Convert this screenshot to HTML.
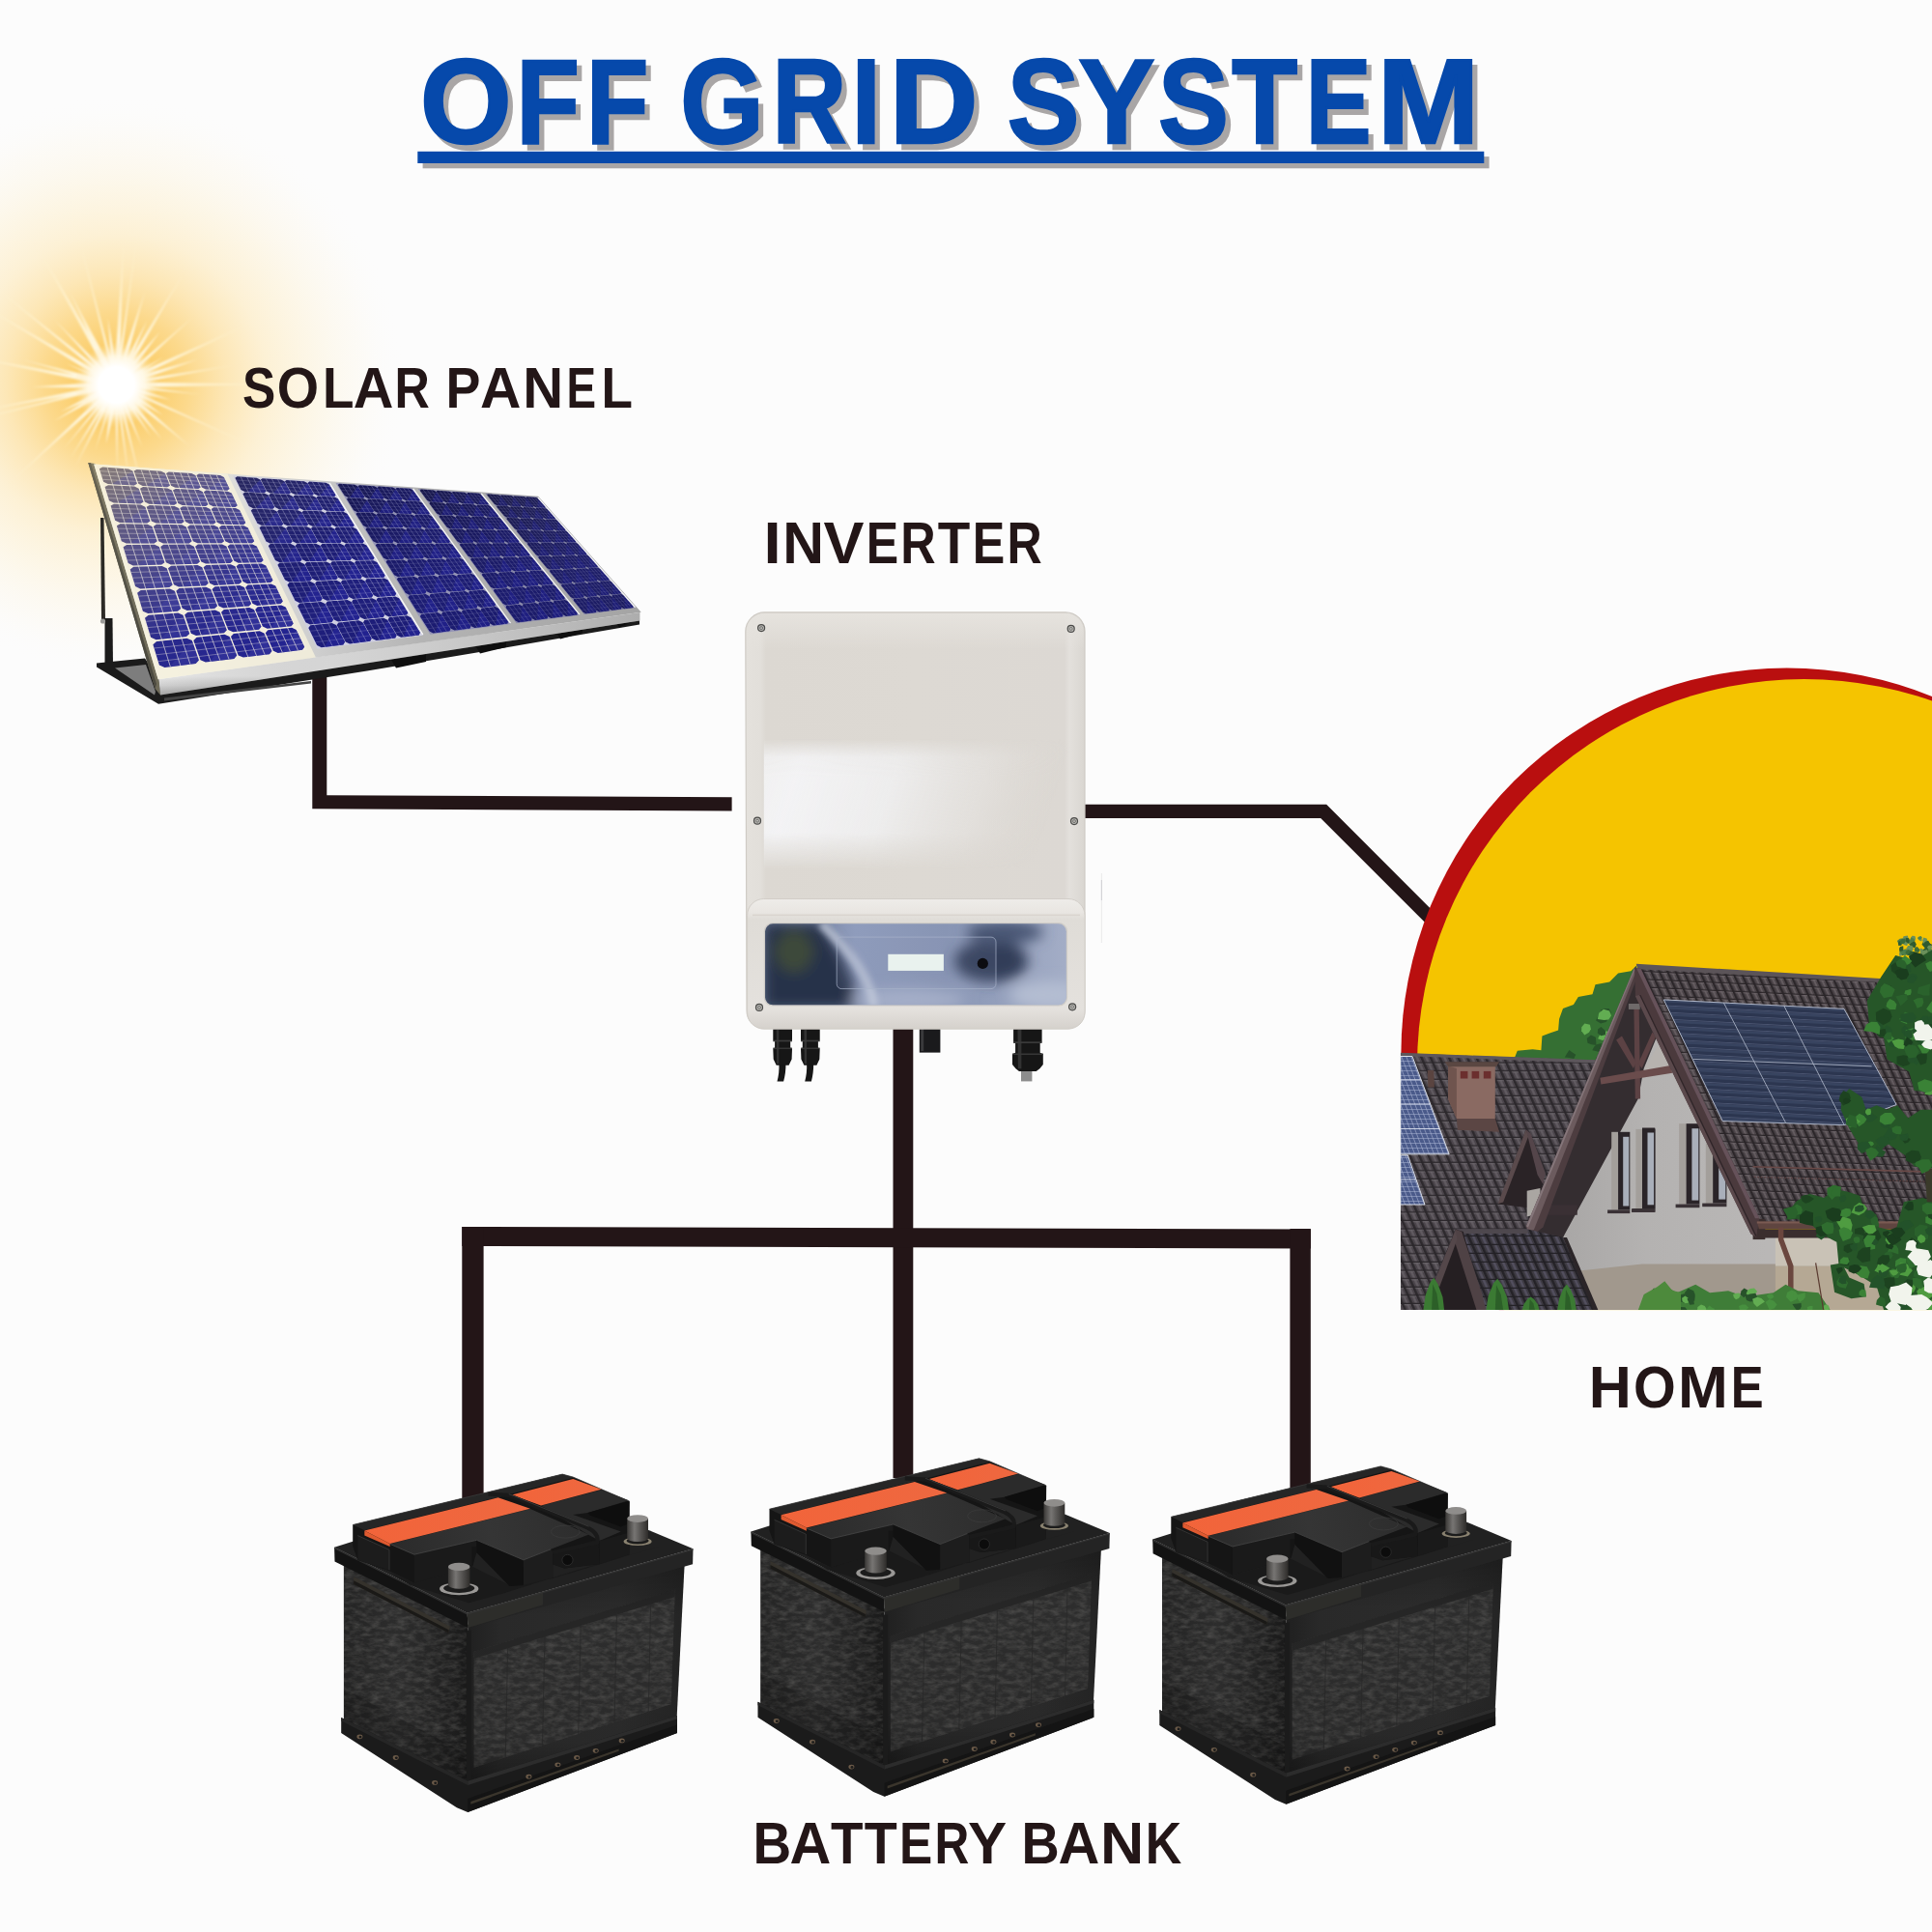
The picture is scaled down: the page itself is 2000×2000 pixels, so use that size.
<!DOCTYPE html>
<html><head><meta charset="utf-8"><title>Off Grid System</title>
<style>
html,body{margin:0;padding:0;background:#fcfcfc;}
body{width:2000px;height:2000px;overflow:hidden;font-family:"Liberation Sans",sans-serif;}
svg{display:block}
</style></head><body>
<svg width="2000" height="2000" viewBox="0 0 2000 2000">
<defs>
<radialGradient id="glow" cx="120.5" cy="398.5" r="300" gradientUnits="userSpaceOnUse">
 <stop offset="0" stop-color="#fbc95f"/>
 <stop offset="0.13" stop-color="#fbce6c"/>
 <stop offset="0.25" stop-color="#fcd98c" />
 <stop offset="0.38" stop-color="#fde5b0" stop-opacity="0.92"/>
 <stop offset="0.52" stop-color="#fdeecb" stop-opacity="0.8"/>
 <stop offset="0.68" stop-color="#fdf3da" stop-opacity="0.6"/>
 <stop offset="0.85" stop-color="#fdf7e8" stop-opacity="0.3"/>
 <stop offset="1" stop-color="#fcfcfc" stop-opacity="0"/>
</radialGradient>
<radialGradient id="core" cx="120.5" cy="398.5" r="44" gradientUnits="userSpaceOnUse">
 <stop offset="0" stop-color="#ffffff"/>
 <stop offset="0.42" stop-color="#ffffff"/>
 <stop offset="0.68" stop-color="#fff8e4" stop-opacity="0.8"/>
 <stop offset="1" stop-color="#fde2a0" stop-opacity="0"/>
</radialGradient>
<radialGradient id="rayfade" cx="120.5" cy="398.5" r="185" gradientUnits="userSpaceOnUse">
 <stop offset="0" stop-color="#fff" stop-opacity="1"/>
 <stop offset="0.3" stop-color="#fffbe8" stop-opacity="0.85"/>
 <stop offset="0.6" stop-color="#fff6d8" stop-opacity="0.6"/>
 <stop offset="1" stop-color="#fff2cc" stop-opacity="0.15"/>
</radialGradient>
<filter id="b1" x="-20%" y="-20%" width="140%" height="140%"><feGaussianBlur stdDeviation="0.8"/></filter>
<linearGradient id="pc0" gradientUnits="userSpaceOnUse" x1="97" y1="481" x2="268" y2="689"><stop offset="0" stop-color="#6f666c"/><stop offset="0.35" stop-color="#4a4684"/><stop offset="0.7" stop-color="#29298c"/><stop offset="1" stop-color="#232390"/></linearGradient>
<linearGradient id="pc1" gradientUnits="userSpaceOnUse" x1="236" y1="491" x2="402" y2="670"><stop offset="0" stop-color="#191956"/><stop offset="0.35" stop-color="#1c1c6c"/><stop offset="0.7" stop-color="#1f1f7c"/><stop offset="1" stop-color="#1c1c76"/></linearGradient>
<linearGradient id="pc2" gradientUnits="userSpaceOnUse" x1="343" y1="498" x2="502" y2="656"><stop offset="0" stop-color="#17174e"/><stop offset="0.35" stop-color="#1a1a64"/><stop offset="0.7" stop-color="#1d1d74"/><stop offset="1" stop-color="#1a1a6c"/></linearGradient>
<linearGradient id="pc3" gradientUnits="userSpaceOnUse" x1="429" y1="504" x2="580" y2="645"><stop offset="0" stop-color="#171748"/><stop offset="0.35" stop-color="#19195e"/><stop offset="0.7" stop-color="#1c1c6e"/><stop offset="1" stop-color="#1a1a66"/></linearGradient>
<linearGradient id="pc4" gradientUnits="userSpaceOnUse" x1="499" y1="510" x2="642" y2="637"><stop offset="0" stop-color="#1a1a46"/><stop offset="0.35" stop-color="#1b1b5a"/><stop offset="0.7" stop-color="#1d1d68"/><stop offset="1" stop-color="#1b1b60"/></linearGradient>
<linearGradient id="frm" gradientUnits="userSpaceOnUse" x1="160" y1="700" x2="662" y2="640"><stop offset="0" stop-color="#f2f2ee"/><stop offset="0.3" stop-color="#d2d2d2"/><stop offset="0.55" stop-color="#b4b4b4"/><stop offset="1" stop-color="#a4a4a4"/></linearGradient>
<linearGradient id="frmt" gradientUnits="userSpaceOnUse" x1="0" y1="700" x2="0" y2="722"><stop offset="0" stop-color="#dcdcdc"/><stop offset="0.45" stop-color="#b4b4b4"/><stop offset="1" stop-color="#636363"/></linearGradient>
<linearGradient id="frmx" gradientUnits="userSpaceOnUse" x1="166" y1="0" x2="662" y2="0"><stop offset="0" stop-color="#fff" stop-opacity="0.35"/><stop offset="0.35" stop-color="#999" stop-opacity="0.1"/><stop offset="1" stop-color="#555" stop-opacity="0.35"/></linearGradient>
<radialGradient id="pglow" cx="120.5" cy="398.5" r="270" gradientUnits="userSpaceOnUse"><stop offset="0.28" stop-color="#ffe9a8" stop-opacity="0.2"/><stop offset="0.5" stop-color="#fff0c4" stop-opacity="0.08"/><stop offset="0.8" stop-color="#fff6dc" stop-opacity="0.04"/><stop offset="1" stop-color="#fff" stop-opacity="0"/></radialGradient>
<linearGradient id="ivb" x1="0" y1="0" x2="1" y2="0">
 <stop offset="0" stop-color="#e4e1dc"/><stop offset="0.045" stop-color="#e2dfda"/><stop offset="0.06" stop-color="#dcd8d2"/>
 <stop offset="0.5" stop-color="#ddd9d3"/><stop offset="0.94" stop-color="#dcd8d3"/><stop offset="0.955" stop-color="#e3e0dc"/><stop offset="1" stop-color="#d9d6d1"/>
</linearGradient>
<linearGradient id="ivtop" x1="0" y1="0" x2="0" y2="1">
 <stop offset="0" stop-color="#e6e3de"/><stop offset="1" stop-color="#e6e3de" stop-opacity="0"/>
</linearGradient>
<linearGradient id="ivshine" gradientUnits="userSpaceOnUse" x1="790" y1="790" x2="1075" y2="880">
 <stop offset="0" stop-color="#f3f3f4" stop-opacity="0.9"/><stop offset="0.12" stop-color="#f4f4f6" stop-opacity="0.95"/>
 <stop offset="0.45" stop-color="#f0f0f1" stop-opacity="0.85"/><stop offset="0.75" stop-color="#e8e6e4" stop-opacity="0.5"/><stop offset="1" stop-color="#dedad5" stop-opacity="0"/>
</linearGradient>
<linearGradient id="ivshv" x1="0" y1="0" x2="0" y2="1">
 <stop offset="0" stop-color="#fff" stop-opacity="0"/><stop offset="0.14" stop-color="#fff" stop-opacity="0.9"/><stop offset="0.3" stop-color="#fff" stop-opacity="1"/><stop offset="0.72" stop-color="#fff" stop-opacity="1"/><stop offset="1" stop-color="#fff" stop-opacity="0"/>
</linearGradient>
<mask id="ivm"><rect x="790.5" y="765" width="320" height="135" fill="url(#ivshv)"/></mask>
<linearGradient id="ivlow" x1="0" y1="0" x2="0" y2="1">
 <stop offset="0" stop-color="#eeece9"/><stop offset="0.1" stop-color="#e9e6e2"/><stop offset="0.16" stop-color="#dfdcd7"/><stop offset="0.85" stop-color="#e4e1dd"/><stop offset="1" stop-color="#d5d1cc"/>
</linearGradient>
<linearGradient id="ivwin" x1="0" y1="0" x2="1" y2="0">
 <stop offset="0" stop-color="#6f7b96"/><stop offset="0.3" stop-color="#8f9cbc"/><stop offset="0.6" stop-color="#8895b4"/><stop offset="1" stop-color="#a3adc6"/>
</linearGradient>
<filter id="ivbl" x="-30%" y="-30%" width="160%" height="160%"><feGaussianBlur stdDeviation="7"/></filter>
<filter id="ivbl2" x="-30%" y="-30%" width="160%" height="160%"><feGaussianBlur stdDeviation="3"/></filter>
<clipPath id="ivwc"><rect x="792.1" y="956.3" width="311.7" height="84" rx="8"/></clipPath>

<clipPath id="hclip"><rect x="1449.8" y="940" width="560" height="416.1"/></clipPath>
<pattern id="tileL" width="9.5" height="8.6" patternUnits="userSpaceOnUse" patternTransform="translate(1450,1092) skewX(24)">
 <rect width="9.5" height="8.6" fill="#4b454b"/>
 <rect x="0" y="0" width="2.6" height="8.6" fill="#2d292d"/>
 <rect x="5" y="0" width="2.4" height="8.6" fill="#625c62"/>
 <rect x="0" y="7.4" width="9.5" height="1.2" fill="#2a262a"/>
 <rect x="2.6" y="0" width="6.9" height="1.3" fill="#6d676d" opacity="0.7"/>
</pattern>
<pattern id="tileR" width="8.6" height="8.2" patternUnits="userSpaceOnUse" patternTransform="translate(1700,1006) rotate(2.6) skewX(27)">
 <rect width="8.6" height="8.2" fill="#4a4347"/>
 <rect x="0" y="0" width="2.4" height="8.2" fill="#2b2629"/>
 <rect x="4.6" y="0" width="2.2" height="8.2" fill="#645c60"/>
 <rect x="0" y="7.1" width="8.6" height="1.1" fill="#292427"/>
 <rect x="2.4" y="0" width="6.2" height="1.2" fill="#6e666a" opacity="0.7"/>
</pattern>
<pattern id="tileF" width="9.5" height="9" patternUnits="userSpaceOnUse" patternTransform="translate(1500,1280) skewX(24)">
 <rect width="9.5" height="9" fill="#3d3a42"/>
 <rect x="0" y="0" width="2.6" height="9" fill="#242227"/>
 <rect x="5" y="0" width="2.4" height="9" fill="#545060"/>
 <rect x="0" y="7.8" width="9.5" height="1.2" fill="#222025"/>
</pattern>
<pattern id="pvR" width="40" height="7" patternUnits="userSpaceOnUse" patternTransform="translate(1722,1035) rotate(3) skewX(30)">
 <rect width="40" height="7" fill="#2c3650"/>
 <rect y="0" width="40" height="2.2" fill="#384460"/>
 <rect y="5.6" width="40" height="0.8" fill="#7f8aa8" opacity="0.45"/>
</pattern>
<pattern id="pvL" width="5" height="5" patternUnits="userSpaceOnUse" patternTransform="translate(1450,1093) skewX(21)">
 <rect width="5" height="5" fill="#4a5a8a"/>
 <rect width="0.8" height="5" fill="#aab4d4" opacity="0.75"/>
 <rect width="5" height="0.8" fill="#aab4d4" opacity="0.6"/>
</pattern>
<linearGradient id="wallg" gradientUnits="userSpaceOnUse" x1="1620" y1="0" x2="1830" y2="0">
 <stop offset="0" stop-color="#a9a7a6"/><stop offset="0.4" stop-color="#b4b2b1"/><stop offset="1" stop-color="#b9b7b6"/>
</linearGradient>
<filter id="hbl" x="-10%" y="-10%" width="120%" height="120%"><feGaussianBlur stdDeviation="0.7"/></filter>

<linearGradient id="btL" gradientUnits="userSpaceOnUse" x1="25" y1="0" x2="155" y2="0">
 <stop offset="0" stop-color="#242424"/><stop offset="0.45" stop-color="#2d2d2d"/><stop offset="0.8" stop-color="#222"/><stop offset="1" stop-color="#191919"/>
</linearGradient>
<linearGradient id="btR" gradientUnits="userSpaceOnUse" x1="155" y1="0" x2="380" y2="0">
 <stop offset="0" stop-color="#202020"/><stop offset="0.15" stop-color="#292929"/><stop offset="0.7" stop-color="#2c2c2c"/><stop offset="1" stop-color="#242424"/>
</linearGradient>
<linearGradient id="btRv" x1="0" y1="0" x2="0" y2="1">
 <stop offset="0" stop-color="#000" stop-opacity="0.25"/><stop offset="0.25" stop-color="#000" stop-opacity="0"/><stop offset="0.8" stop-color="#000" stop-opacity="0.05"/><stop offset="1" stop-color="#000" stop-opacity="0.35"/>
</linearGradient>
<linearGradient id="btTop" gradientUnits="userSpaceOnUse" x1="70" y1="90" x2="280" y2="40">
 <stop offset="0" stop-color="#2a2a2a"/><stop offset="0.5" stop-color="#353535"/><stop offset="1" stop-color="#2c2c2c"/>
</linearGradient>
<linearGradient id="btTerm" x1="0" y1="0" x2="1" y2="0">
 <stop offset="0" stop-color="#3a3836"/><stop offset="0.35" stop-color="#777573"/><stop offset="0.6" stop-color="#5a5856"/><stop offset="1" stop-color="#2e2c2a"/>
</linearGradient>
<filter id="btx" x="0" y="0" width="100%" height="100%" color-interpolation-filters="sRGB">
 <feTurbulence type="fractalNoise" baseFrequency="0.11 0.22" numOctaves="3" seed="7" result="n"/>
 <feColorMatrix in="n" type="matrix" values="0 0 0 0 0.7  0 0 0 0 0.69  0 0 0 0 0.67  0.42 0 0 0 -0.15" result="m"/>
 <feComposite in="m" in2="SourceGraphic" operator="in" result="mm"/>
 <feMerge><feMergeNode in="SourceGraphic"/><feMergeNode in="mm"/></feMerge>
</filter>
<linearGradient id="btOr" x1="0" y1="0" x2="1" y2="0">
 <stop offset="0" stop-color="#f2643a"/><stop offset="1" stop-color="#ee6840"/>
</linearGradient>

<g id="batt"><polygon points="25.9,103.5 154.2,171.8 154.2,341.6 25.9,273.3" fill="url(#btL)" filter="url(#btx)"/>
<polygon points="154.2,171.8 378.9,103.5 370.6,269.2 154.2,341.6" fill="url(#btR)"/>
<polygon points="160.5,199.8 368.9,135.6 364.8,254.2 160.5,319.9" fill="#2d2d2d" filter="url(#btx)"/>
<polygon points="160.5,199.8 368.9,135.6 368.5,142.9 160.5,207.0" fill="#262626"/>
<line x1="195.7" y1="195.2" x2="193.2" y2="308.8" stroke="#2a2a2a" stroke-width="0.8"/>
<line x1="234.0" y1="183.4" x2="231.5" y2="296.7" stroke="#2a2a2a" stroke-width="0.8"/>
<line x1="271.2" y1="171.9" x2="268.7" y2="285.0" stroke="#2a2a2a" stroke-width="0.8"/>
<line x1="308.5" y1="160.4" x2="306.0" y2="273.3" stroke="#2a2a2a" stroke-width="0.8"/>
<line x1="343.7" y1="149.6" x2="341.2" y2="262.2" stroke="#2a2a2a" stroke-width="0.8"/>
<polygon points="154.2,171.8 378.9,103.5 370.6,269.2 154.2,341.6" fill="url(#btRv)"/>
<polygon points="36.2,122.2 135.6,173.5 134.6,180.5 36.2,130.0" fill="#35322c"/>
<polygon points="36.2,126.3 134.6,177.2 134.6,180.5 36.2,130.0" fill="#1a1917"/>
<polygon points="25.9,238.1 154.2,306.4 154.2,341.6 25.9,273.3" fill="#000" opacity="0.18"/>
<polygon points="152.8,178.1 157.8,177.6 157.8,339.5 152.8,339.5" fill="#1b1b1b"/>
<polygon points="23.2,268.1 154.2,333.7 371.0,266.0 371.0,284.1 154.2,366.0 142.9,361.3 23.2,284.1" fill="#1b1b1b"/>
<polygon points="154.2,333.7 371.0,266.0 371.0,269.6 154.2,337.9" fill="#2c2c2c"/>
<polygon points="23.2,268.1 154.2,333.7 154.2,337.9 23.2,271.6" fill="#262626"/>
<polygon points="154.2,352.0 371.0,275.4 371.0,284.1 154.2,366.0" fill="#141414"/>
<polygon points="157.3,355.1 310.6,300.6 310.6,302.7 157.3,357.8" fill="#3a352c"/>
<ellipse cx="42.4" cy="287.8" rx="3" ry="2.4" fill="#6b5a48"/><ellipse cx="43.0" cy="288.1" rx="1.5" ry="1.3" fill="#1a1a1a"/>
<ellipse cx="79.7" cy="309.5" rx="3" ry="2.4" fill="#6b5a48"/><ellipse cx="80.3" cy="309.8" rx="1.5" ry="1.3" fill="#1a1a1a"/>
<ellipse cx="120.1" cy="335.4" rx="3" ry="2.4" fill="#6b5a48"/><ellipse cx="120.7" cy="335.7" rx="1.5" ry="1.3" fill="#1a1a1a"/>
<ellipse cx="217.4" cy="329.2" rx="3" ry="2.4" fill="#6b5a48"/><ellipse cx="218.0" cy="329.5" rx="1.5" ry="1.3" fill="#1a1a1a"/>
<ellipse cx="247.4" cy="316.8" rx="3" ry="2.4" fill="#6b5a48"/><ellipse cx="248.0" cy="317.1" rx="1.5" ry="1.3" fill="#1a1a1a"/>
<ellipse cx="267.1" cy="309.5" rx="3" ry="2.4" fill="#6b5a48"/><ellipse cx="267.7" cy="309.8" rx="1.5" ry="1.3" fill="#1a1a1a"/>
<ellipse cx="286.7" cy="302.3" rx="3" ry="2.4" fill="#6b5a48"/><ellipse cx="287.3" cy="302.6" rx="1.5" ry="1.3" fill="#1a1a1a"/>
<ellipse cx="313.7" cy="291.9" rx="3" ry="2.4" fill="#6b5a48"/><ellipse cx="314.3" cy="292.2" rx="1.5" ry="1.3" fill="#1a1a1a"/>
<polygon points="16.1,91.8 35.2,85.7 321.9,67.1 342.1,74.2 387.5,93.2 153.7,159.8" fill="#212121"/>
<polygon points="16.1,91.8 153.7,159.8 154.5,175.1 16.5,106.5" fill="#131313"/>
<polygon points="153.7,159.8 387.5,93.2 387.1,109.3 154.5,175.1" fill="#242424"/>
<polygon points="153.7,159.8 232.0,137.6 232.0,151.3 154.5,175.1" fill="#34342f" opacity="0.55"/>
<polygon points="16.1,91.8 153.7,159.8 387.5,93.2 387.5,94.8 153.7,161.8 16.1,93.6" fill="#333" opacity="0.8"/>
<polygon points="72.6,117.0 98.8,129.1 159.4,111.9 197.7,131.1 242.1,124.0 288.6,109.9 321.9,99.8 353.2,90.7 268.4,115.0 191.7,139.2 155.3,149.3 94.8,131.1" fill="#1a1a1a"/>
<polygon points="35.2,68.5 35.2,90.7 40.3,104.9 72.6,116.0 98.8,128.7 159.4,111.3 163.4,96.8 197.7,132.1 242.1,123.4 242.1,109.3 254.2,113.4 288.6,109.3 321.3,99.2 321.9,44.3 263.3,19.1 252.2,16.1" fill="#151515"/>
<polygon points="40.3,79.6 73.0,94.4 73.0,115.4 40.3,104.9" fill="#1c1c1c"/>
<polygon points="35.2,68.5 252.2,16.1 263.3,19.7 185.6,39.9 47.3,74.2" fill="#262626"/>
<polygon points="73.6,88.3 218.9,52.0 279.5,78.6 240.1,93.8 211.9,104.9 163.4,84.3 98.8,99.2" fill="url(#btTop)"/>
<polygon points="98.8,99.2 163.4,84.3 163.4,91.1 158.4,91.1 158.4,111.9 98.8,128.7" fill="#1a1a1a"/>
<polygon points="163.4,84.3 211.9,104.9 211.9,131.1 197.7,132.1 163.4,97.2" fill="#111"/>
<polygon points="211.9,104.9 240.1,93.8 242.1,95.8 242.1,123.4 211.9,131.1" fill="#1d1d1d"/>
<polyline points="73.6,88.3 98.8,99.2 163.4,84.3 211.9,104.9 240.1,93.8" fill="none" stroke="#484848" stroke-width="0.8"/>
<polyline points="40.3,79.6 73.0,94.4 73.0,115.4" fill="none" stroke="#3a3a3a" stroke-width="0.8"/>
<polyline points="35.2,68.5 252.2,16.1 263.3,19.1 321.9,44.3" fill="none" stroke="#3c3c3c" stroke-width="0.8"/>
<polygon points="230.0,48.8 292.6,32.2 320.9,43.3 278.5,56.0 263.3,58.0 312.8,75.6 290.6,85.1 280.5,79.6" fill="#2b2b2b"/>
<polygon points="278.5,56.0 320.9,43.9 321.3,66.9 312.8,70.6 280.5,58.4" fill="#0e0e0e"/>
<polygon points="290.6,85.1 321.3,76.6 321.3,99.2 290.6,109.3" fill="#1a1a1a"/>
<polygon points="242.1,96.8 289.6,83.1 290.6,109.3 254.2,113.4 242.1,109.3" fill="#181818"/>
<polygon points="47.3,74.6 185.6,40.3 218.9,51.8 73.6,87.9" fill="url(#btOr)"/>
<polygon points="47.3,74.6 73.6,87.9 73.6,91.1 47.3,79.4" fill="#e05a30"/>
<polygon points="199.7,37.5 263.3,21.1 292.6,31.8 230.0,48.6" fill="url(#btOr)"/>
<path d="M175.5,36.6 L196.7,37.9 L278.5,71.6 Q290.6,77.6 288.2,86.7 L242.1,97.2" fill="none" stroke="#1a1a1a" stroke-width="4.2" stroke-linejoin="round"/>
<path d="M196.7,36.6 L279.5,70.2" fill="none" stroke="#3a3a3a" stroke-width="0.9"/>
<circle cx="257.5" cy="104.9" r="5.6" fill="#0c0c0c" stroke="#333" stroke-width="0.7"/>
<ellipse cx="255.3" cy="75.6" rx="15" ry="6.5" fill="none" stroke="#3c3c3c" stroke-width="0.7"/>
<ellipse cx="145.2" cy="134.7" rx="20.2" ry="6.5" fill="#9a9896"/><ellipse cx="145.2" cy="134.1" rx="16.1" ry="4.8" fill="#1c1c1c"/><path d="M133.9,111.9 L133.9,130.7 A11.3,4.0 0 0 0 156.5,130.7 L156.5,111.9 Z" fill="url(#btTerm)"/><ellipse cx="145.2" cy="111.9" rx="11.3" ry="4.1" fill="#8f8d8b"/>
<ellipse cx="330.1" cy="85.7" rx="14.5" ry="4.4" fill="#8a8270"/><ellipse cx="330.1" cy="85.1" rx="11.6" ry="3.3" fill="#1c1c1c"/><path d="M319.2,62.1 L319.2,82.3 A10.9,3.8 0 0 0 341.0,82.3 L341.0,62.1 Z" fill="url(#btTerm)"/><ellipse cx="330.1" cy="62.1" rx="10.9" ry="3.9" fill="#8f8d8b"/></g></defs>
<rect width="2000" height="2000" fill="#fcfcfc"/>
<circle cx="120.5" cy="398.5" r="300" fill="url(#glow)"/>
<path d="M136.5,401.3 L276.1,397.8 L136.5,395.5 Z M136.2,401.8 L207.1,408.2 L136.6,398.8 Z M135.3,405.1 L177.1,413.9 L136.6,400.4 Z M134.6,406.2 L272.0,465.8 L135.7,403.8 Z M132.4,409.5 L168.7,429.7 L135.4,404.9 Z M131.3,410.5 L197.0,462.5 L134.2,407.0 Z M128.8,412.5 L167.6,454.7 L132.8,409.1 Z M127.7,412.9 L156.2,451.8 L131.1,410.7 Z M125.1,413.9 L147.5,463.6 L128.2,412.6 Z M123.0,414.4 L146.7,504.1 L125.7,413.7 Z M121.3,414.5 L133.9,501.1 L123.9,414.2 Z M119.2,414.5 L121.3,490.4 L122.1,414.5 Z M114.6,413.7 L109.8,459.7 L120.9,414.8 Z M114.3,413.3 L98.4,466.8 L116.8,414.1 Z M111.8,412.0 L78.4,482.5 L114.8,413.6 Z M110.5,411.1 L73.1,474.0 L113.4,413.0 Z M109.2,409.9 L65.8,464.8 L111.4,411.8 Z M107.3,407.7 L9.8,500.2 L110.2,410.9 Z M105.4,404.4 L56.2,435.8 L107.9,408.7 Z M104.9,403.0 L62.7,426.2 L107.2,407.9 Z M104.6,400.9 L-52.8,441.2 L105.3,403.7 Z M104.3,398.9 L-21.0,425.4 L105.3,404.1 Z M104.4,395.8 L32.6,400.6 L104.6,402.0 Z M105.3,393.0 L-42.4,367.1 L104.3,397.9 Z M105.6,392.3 L23.8,372.4 L104.5,396.3 Z M106.4,390.9 L68.2,376.2 L105.2,393.6 Z M108.0,388.3 L-26.0,311.7 L105.5,392.4 Z M109.2,387.0 L-19.7,285.6 L106.9,389.9 Z M110.9,385.6 L55.9,330.6 L108.1,388.2 Z M114.9,383.3 L35.6,250.6 L110.2,386.0 Z M116.0,382.9 L72.4,302.8 L110.6,385.6 Z M117.9,382.7 L76.8,226.5 L115.3,383.3 Z M121.0,382.3 L111.6,328.9 L116.0,382.9 Z M123.9,382.6 L128.0,247.3 L118.7,382.4 Z M124.1,382.8 L142.4,241.5 L121.4,382.5 Z M127.8,384.0 L150.1,301.4 L122.5,382.4 Z M129.7,385.2 L152.5,331.3 L125.0,382.9 Z M130.7,385.9 L190.2,282.6 L126.8,383.6 Z M133.0,388.0 L165.7,343.5 L128.4,384.3 Z M133.8,389.4 L199.7,328.3 L131.2,386.4 Z M135.1,391.7 L169.3,369.8 L133.5,389.1 Z M136.0,393.8 L257.7,335.4 L134.1,389.8 Z M136.6,396.5 L205.0,372.0 L134.9,391.0 Z M136.6,397.7 L242.7,378.1 L136.0,394.0 Z" fill="url(#rayfade)" filter="url(#b1)"/>
<circle cx="120.5" cy="398.5" r="44" fill="url(#core)"/>
<polygon points="323.3,700 338.3,700 338.3,823.2 757.6,825.2 757.6,839.4 323.3,837.3" fill="#231517"/>
<polyline points="1122,839.9 1370.2,839.9 1482,951.7" fill="none" stroke="#231517" stroke-width="14.2" stroke-linejoin="miter"/>
<rect x="924.5" y="1060" width="20.8" height="470" fill="#231517"/>
<polygon points="478.3,1270 1356.8,1272.4 1356.8,1292.4 478.3,1290" fill="#231517"/>
<rect x="478.3" y="1270" width="22.3" height="290" fill="#231517"/>
<rect x="1335.4" y="1272" width="21.4" height="275" fill="#231517"/>
<circle cx="1849.7" cy="1090.9" r="399.3" fill="#b90f0f"/>
<circle cx="1867.6" cy="1103.6" r="400.6" fill="#f5c400"/>
<rect x="1440" y="1356.1" width="560" height="200" fill="#fcfcfc"/>
<g clip-path="url(#hclip)">
<polygon points="1567.9,1095.1 1570.8,1087.8 1586.6,1086.2 1595.4,1087.2 1596.4,1072.5 1604.3,1069.5 1613.1,1066.6 1614.1,1054.8 1618.0,1043.9 1628.9,1040.0 1633.8,1032.1 1648.5,1029.2 1651.5,1019.3 1666.2,1016.4 1675.1,1007.5 1688.3,1005.2 1693.8,999.7 1695.8,1005.6 1652.5,1098.0" fill="#356f33"/>
<polygon points="1657.7,1084.9 1657.8,1089.7 1652.8,1088.2 1648.3,1087.2 1650.3,1083.5 1652.7,1081.2 1657.9,1080.1" fill="#27522a"/>
<polygon points="1665.8,1053.6 1662.5,1058.0 1657.1,1059.4 1652.1,1056.4 1654.4,1051.8 1657.2,1048.2 1663.1,1048.5" fill="#27522a"/>
<polygon points="1631.2,1091.8 1629.3,1096.0 1624.8,1095.1 1619.8,1094.4 1622.2,1090.4 1624.4,1087.1 1627.8,1089.4" fill="#27522a"/>
<polygon points="1667.1,1072.8 1662.9,1076.1 1658.9,1077.0 1654.1,1075.3 1656.2,1071.1 1658.3,1066.4 1664.4,1067.7" fill="#62ad52"/>
<polygon points="1646.9,1065.2 1645.0,1068.8 1640.3,1071.6 1637.1,1067.3 1637.3,1063.3 1640.4,1059.4 1645.9,1060.7" fill="#62ad52"/>
<polygon points="1662.1,1067.5 1661.9,1071.3 1657.3,1072.2 1653.8,1069.6 1654.1,1065.6 1657.4,1063.0 1660.2,1065.6" fill="#27522a"/>
<polygon points="1667.8,1048.1 1665.2,1051.6 1660.7,1053.4 1658.8,1049.5 1656.7,1045.7 1661.0,1043.9 1665.6,1044.1" fill="#27522a"/>
<polygon points="1668.0,1051.5 1665.2,1055.4 1660.5,1056.1 1653.8,1054.9 1655.2,1048.7 1660.0,1044.7 1666.1,1046.5" fill="#62ad52"/>
<polygon points="1652.2,1077.6 1652.4,1082.1 1647.5,1081.3 1643.5,1079.7 1642.7,1075.1 1646.9,1071.6 1651.8,1073.7" fill="#27522a"/>
<polygon points="1993.8,996.3 1991.7,998.6 1988.3,999.3 1987.3,996.3 1988.5,993.6 1992.6,992.6" fill="#2f5a30"/>
<polygon points="1982.2,974.2 1980.3,975.3 1978.5,976.0 1977.7,974.2 1978.4,972.3 1980.5,972.8" fill="#3c6b3a"/>
<polygon points="1998.8,977.8 1997.0,981.9 1992.3,980.9 1989.5,977.8 1991.6,973.5 1996.4,974.4" fill="#2f5a30"/>
<polygon points="1988.0,1004.9 1984.5,1007.1 1981.1,1008.0 1979.3,1004.9 1980.6,1001.0 1984.8,1002.2" fill="#3c6b3a"/>
<polygon points="1967.5,997.7 1967.4,1000.3 1964.7,999.2 1962.7,997.7 1964.1,995.3 1967.2,995.4" fill="#4f7f4a"/>
<polygon points="1984.6,1016.3 1984.1,1019.0 1981.3,1018.0 1979.0,1016.3 1980.2,1012.8 1983.8,1014.1" fill="#2f5a30"/>
<polygon points="2001.7,1000.5 1999.2,1002.9 1995.5,1003.9 1992.5,1000.5 1996.3,998.5 1999.5,997.6" fill="#3c6b3a"/>
<polygon points="1994.9,1016.3 1993.7,1019.3 1990.2,1018.7 1987.3,1016.3 1989.9,1013.5 1993.4,1013.8" fill="#2f5a30"/>
<polygon points="1996.7,1008.0 1994.9,1011.1 1990.6,1011.6 1989.6,1008.0 1991.3,1005.4 1995.1,1004.6" fill="#4f7f4a"/>
<polygon points="1971.5,987.3 1969.1,988.9 1966.4,990.0 1966.0,987.3 1966.8,985.3 1969.8,984.7" fill="#6a8f5a"/>
<polygon points="2000.0,978.4 1999.1,979.6 1997.1,980.1 1996.5,978.4 1997.3,976.9 1999.2,976.9" fill="#2f5a30"/>
<polygon points="1995.2,973.6 1994.9,976.4 1991.1,976.7 1990.3,973.6 1991.2,970.5 1994.6,971.4" fill="#6a8f5a"/>
<polygon points="1978.7,1014.1 1977.6,1016.1 1975.1,1015.9 1973.7,1014.1 1975.5,1012.9 1977.4,1012.4" fill="#3c6b3a"/>
<polygon points="1996.0,985.9 1992.5,988.6 1988.7,989.0 1987.7,985.9 1988.0,981.5 1992.3,983.4" fill="#6a8f5a"/>
<polygon points="1982.5,998.7 1981.3,1001.6 1978.3,1000.5 1974.9,998.7 1977.4,995.4 1981.8,995.1" fill="#2f5a30"/>
<polygon points="1964.2,1009.1 1962.5,1011.7 1959.6,1011.0 1956.6,1009.1 1958.8,1006.0 1962.8,1006.0" fill="#6a8f5a"/>
<polygon points="1970.8,1002.3 1969.8,1006.3 1965.8,1004.7 1964.0,1002.3 1965.5,999.4 1968.9,999.8" fill="#6a8f5a"/>
<polygon points="1972.9,974.1 1969.7,976.2 1965.9,978.0 1963.9,974.1 1966.7,971.7 1970.1,971.3" fill="#4f7f4a"/>
<polygon points="1979.8,1007.0 1979.1,1008.6 1976.9,1008.8 1975.4,1007.0 1977.2,1005.6 1979.1,1005.4" fill="#2f5a30"/>
<polygon points="1992.6,1017.6 1991.6,1020.7 1987.6,1020.7 1984.3,1017.6 1987.1,1013.7 1992.0,1013.8" fill="#3c6b3a"/>
<polygon points="1983.8,977.6 1982.3,981.5 1978.4,979.8 1976.2,977.6 1978.5,975.5 1982.0,974.2" fill="#2f5a30"/>
<polygon points="1989.7,972.8 1989.2,974.4 1987.5,973.8 1985.7,972.8 1987.5,971.6 1989.1,971.3" fill="#6a8f5a"/>
<polygon points="1989.0,1013.5 1986.4,1015.1 1983.4,1016.5 1982.7,1013.5 1984.3,1011.9 1986.4,1011.8" fill="#2f5a30"/>
<polygon points="1971.9,1000.3 1970.5,1002.6 1966.8,1003.9 1965.2,1000.3 1967.5,997.9 1970.7,997.7" fill="#2f5a30"/>
<polygon points="1974.7,985.8 1972.9,987.9 1969.4,989.2 1967.8,985.8 1969.8,983.1 1973.5,982.8" fill="#3c6b3a"/>
<polygon points="1991.6,1002.9 1991.3,1004.5 1989.0,1004.9 1988.9,1002.9 1989.1,1001.1 1991.0,1001.8" fill="#3c6b3a"/>
<polygon points="1965.7,1012.9 1964.7,1014.2 1962.6,1014.9 1961.4,1012.9 1962.6,1011.0 1964.9,1011.3" fill="#6a8f5a"/>
<polygon points="1968.6,1012.6 1967.4,1014.8 1963.9,1015.8 1963.2,1012.6 1963.6,1008.8 1968.3,1009.0" fill="#6a8f5a"/>
<polygon points="1987.1,992.4 1985.5,995.4 1981.7,995.4 1979.6,992.4 1981.3,988.9 1986.1,988.5" fill="#4f7f4a"/>
<polygon points="1983.3,1008.8 1980.9,1011.1 1977.8,1011.2 1976.6,1008.8 1978.3,1007.0 1980.7,1006.6" fill="#2f5a30"/>
<polygon points="1975.1,975.8 1974.2,979.0 1970.7,978.1 1969.6,975.8 1970.2,972.8 1974.0,972.9" fill="#6a8f5a"/>
<polygon points="1983.0,971.2 1982.5,973.7 1979.7,973.0 1977.7,971.2 1979.4,968.8 1982.3,969.1" fill="#6a8f5a"/>
<polygon points="1975.9,972.1 1974.8,975.9 1970.7,974.9 1969.7,972.1 1970.5,969.2 1974.7,968.6" fill="#6a8f5a"/>
<polygon points="1982.4,973.2 1980.9,975.0 1978.6,975.0 1977.4,973.2 1978.1,970.6 1980.9,971.4" fill="#4f7f4a"/>
<polygon points="1974.3,1015.0 1972.4,1016.7 1969.4,1017.9 1967.6,1015.0 1969.9,1012.8 1972.8,1012.5" fill="#2f5a30"/>
<polygon points="1953.8,1016.5 1952.6,1018.2 1950.6,1018.0 1950.2,1016.5 1950.8,1015.4 1952.5,1015.0" fill="#4f7f4a"/>
<polygon points="1990.0,971.0 1988.4,972.3 1986.3,972.8 1984.9,971.0 1986.6,969.6 1988.6,969.1" fill="#4f7f4a"/>
<polygon points="1971.4,1012.2 1968.1,1014.7 1963.9,1016.3 1962.6,1012.2 1964.7,1009.3 1968.7,1008.9" fill="#4f7f4a"/>
<polygon points="1981.3,990.0 1980.2,991.4 1977.8,992.2 1977.2,990.0 1977.9,987.9 1980.2,988.5" fill="#6a8f5a"/>
<polygon points="2000.9,1002.4 1998.9,1003.8 1997.2,1003.7 1996.3,1002.4 1996.7,1000.3 1999.4,1000.1" fill="#3c6b3a"/>
<polygon points="2002.6,1002.5 2000.4,1005.2 1996.8,1005.5 1996.5,1002.5 1996.9,999.8 2000.5,999.6" fill="#6a8f5a"/>
<polygon points="1969.5,993.3 1968.6,994.5 1966.8,994.8 1966.1,993.3 1966.8,991.7 1968.6,992.0" fill="#2f5a30"/>
<polygon points="1973.4,997.2 1971.5,998.7 1969.7,998.6 1968.4,997.2 1969.1,994.9 1971.6,995.5" fill="#3c6b3a"/>
<polygon points="1996.0,999.2 1993.4,1000.9 1990.5,1001.9 1989.3,999.2 1990.4,996.2 1993.8,996.9" fill="#6a8f5a"/>
<polygon points="1967.6,1016.2 1966.8,1019.6 1962.7,1019.2 1959.2,1016.2 1962.3,1012.7 1966.7,1012.9" fill="#6a8f5a"/>
<polygon points="1999.3,983.8 1997.5,987.0 1993.8,986.3 1990.5,983.8 1993.2,980.4 1997.7,980.3" fill="#2f5a30"/>
<polygon points="1968.8,1010.0 1967.6,1012.0 1964.8,1012.6 1963.9,1010.0 1964.2,1006.6 1967.6,1008.2" fill="#4f7f4a"/>
<polygon points="1976.2,986.0 1973.1,989.1 1969.7,988.3 1966.1,986.0 1969.3,983.2 1973.4,982.5" fill="#4f7f4a"/>
<polygon points="1998.9,1009.1 1998.1,1010.4 1996.5,1010.3 1995.5,1009.1 1996.5,1007.9 1998.0,1007.9" fill="#2f5a30"/>
<polygon points="1980.9,974.4 1977.9,976.5 1974.9,977.0 1974.1,974.4 1975.5,972.6 1977.8,972.4" fill="#4f7f4a"/>
<polygon points="1980.8,982.2 1979.3,985.3 1975.9,984.3 1973.1,982.2 1975.2,978.9 1979.5,978.8" fill="#6a8f5a"/>
<polygon points="1980.6,985.9 1978.4,988.3 1974.7,989.3 1972.4,985.9 1974.8,982.7 1978.1,984.0" fill="#3c6b3a"/>
<polygon points="2000.5,1001.6 1999.1,1003.7 1995.9,1004.5 1994.0,1001.6 1996.5,999.6 1999.6,998.7" fill="#3c6b3a"/>
<polygon points="1998.2,1010.1 1997.4,1011.3 1995.7,1011.5 1994.7,1010.1 1996.0,1009.0 1997.5,1008.8" fill="#2f5a30"/>
<polygon points="1980.3,1004.0 1977.9,1006.5 1973.5,1008.3 1971.0,1004.0 1973.9,1000.3 1978.8,1000.1" fill="#3c6b3a"/>
<polygon points="1970.4,982.0 1969.8,984.2 1966.4,985.2 1966.0,982.0 1967.0,980.0 1970.2,979.2" fill="#2f5a30"/>
<polygon points="1996.3,994.7 1995.1,997.8 1990.8,998.4 1989.9,994.7 1990.5,990.7 1994.8,992.1" fill="#2f5a30"/>
<polygon points="1999.2,1016.1 1996.9,1017.8 1993.7,1019.2 1993.1,1016.1 1993.8,1013.1 1996.9,1014.4" fill="#2f5a30"/>
<polygon points="1983.5,1013.1 1981.8,1015.6 1979.3,1014.5 1978.0,1013.1 1979.1,1011.4 1981.7,1010.7" fill="#6a8f5a"/>
<polygon points="1972.1,997.5 1970.4,1000.2 1966.3,1001.1 1964.5,997.5 1966.5,994.1 1969.9,995.5" fill="#6a8f5a"/>
<polygon points="1968.8,976.6 1968.3,978.8 1965.3,979.0 1965.0,976.6 1965.5,974.4 1968.5,973.9" fill="#2f5a30"/>
<polygon points="2001.0,989.9 1999.6,993.0 1995.2,993.7 1995.2,989.9 1995.6,986.7 2000.1,986.1" fill="#2f5a30"/>
<polygon points="1971.5,973.9 1970.2,976.0 1968.0,975.2 1966.9,973.9 1967.7,972.2 1969.7,972.6" fill="#4f7f4a"/>
<polygon points="1999.7,991.3 1996.2,993.2 1993.5,993.6 1990.6,991.3 1992.7,987.8 1996.8,988.4" fill="#3c6b3a"/>
<polygon points="1978.1,1010.2 1977.5,1014.4 1972.9,1013.2 1969.7,1010.2 1972.9,1007.1 1976.2,1008.1" fill="#4f7f4a"/>
<polygon points="1968.8,1007.7 1967.4,1009.9 1964.3,1010.4 1962.5,1007.7 1964.4,1005.3 1967.3,1005.8" fill="#3c6b3a"/>
<polygon points="1974.1,1008.8 1973.0,1011.9 1969.8,1010.8 1968.3,1008.8 1969.8,1006.9 1972.2,1007.0" fill="#6a8f5a"/>
<polygon points="1997.5,976.6 1995.4,978.5 1993.2,978.2 1991.5,976.6 1993.0,974.7 1996.1,973.8" fill="#2f5a30"/>
<polygon points="1982.4,1011.7 1981.7,1013.5 1979.6,1013.3 1977.8,1011.7 1979.1,1009.4 1981.8,1009.7" fill="#2f5a30"/>
<polygon points="1974.8,1009.3 1973.1,1012.1 1969.9,1011.5 1966.8,1009.3 1969.4,1006.3 1973.0,1006.6" fill="#2f5a30"/>
<polygon points="1987.0,1003.6 1986.8,1007.5 1982.8,1006.0 1981.2,1003.6 1982.4,1000.6 1986.4,1000.4" fill="#2f5a30"/>
<polygon points="2001.5,984.2 2000.0,986.3 1997.2,986.5 1995.9,984.2 1996.9,981.5 1999.8,982.4" fill="#4f7f4a"/>
<polygon points="1985.1,1007.7 1983.9,1009.0 1982.3,1008.9 1981.7,1007.7 1982.4,1006.6 1984.1,1006.0" fill="#3c6b3a"/>
<polygon points="1972.3,1006.3 1971.4,1009.0 1968.1,1008.8 1967.4,1006.3 1967.8,1003.3 1971.1,1004.1" fill="#2f5a30"/>
<polygon points="1987.8,983.0 1986.1,986.1 1982.5,985.5 1981.5,983.0 1982.9,981.1 1985.4,981.0" fill="#3c6b3a"/>
<polygon points="1971.8,997.6 1970.7,998.7 1969.5,998.4 1968.6,997.6 1969.4,996.6 1970.6,996.6" fill="#2f5a30"/>
<polygon points="1996.0,986.5 1994.0,988.3 1991.2,989.2 1988.9,986.5 1991.2,984.0 1995.1,983.1" fill="#6a8f5a"/>
<polygon points="1976.6,973.7 1976.4,976.4 1973.5,975.5 1972.6,973.7 1972.8,970.8 1976.2,971.2" fill="#2f5a30"/>
<polygon points="1979.0,997.4 1977.5,998.8 1975.7,998.9 1974.6,997.4 1975.6,995.7 1977.2,996.5" fill="#3c6b3a"/>
<polygon points="1992.9,1010.2 1990.9,1013.4 1986.9,1013.3 1985.4,1010.2 1987.0,1007.4 1990.2,1008.1" fill="#6a8f5a"/>
<polygon points="1985.4,1017.2 1983.6,1018.4 1981.6,1019.1 1981.5,1017.2 1981.8,1015.6 1983.8,1015.7" fill="#2f5a30"/>
<polygon points="2000.7,980.7 1998.6,982.4 1996.2,982.8 1994.9,980.7 1996.4,978.8 1998.9,978.6" fill="#6a8f5a"/>
<polygon points="1985.5,981.9 1985.2,983.9 1983.2,983.0 1982.1,981.9 1983.1,980.6 1985.2,979.9" fill="#3c6b3a"/>
<polygon points="1972.8,974.6 1971.4,976.6 1968.0,977.8 1966.4,974.6 1968.7,972.3 1972.1,971.5" fill="#3c6b3a"/>
<polygon points="1997.3,1015.1 1995.2,1018.1 1992.1,1017.0 1990.6,1015.1 1991.6,1012.5 1994.8,1012.7" fill="#4f7f4a"/>
<polygon points="1977.3,1013.7 1975.7,1016.6 1971.8,1016.8 1969.9,1013.7 1972.6,1011.7 1975.9,1010.6" fill="#6a8f5a"/>
<polygon points="2000.5,1006.3 1999.7,1008.0 1997.9,1007.4 1996.6,1006.3 1997.3,1004.3 1999.7,1004.5" fill="#2f5a30"/>
<polygon points="1972.8,1002.7 1972.4,1005.5 1968.7,1005.7 1968.2,1002.7 1969.2,1000.4 1972.7,999.6" fill="#4f7f4a"/>
<polygon points="1988.2,1017.4 1987.4,1018.5 1985.9,1018.7 1984.5,1017.4 1985.9,1016.3 1987.4,1016.2" fill="#3c6b3a"/>
<polygon points="1983.7,987.9 1982.2,991.4 1977.8,991.2 1975.2,987.9 1978.1,985.0 1981.7,985.0" fill="#2f5a30"/>
<polygon points="1999.1,996.2 1996.0,998.5 1992.9,998.8 1989.9,996.2 1992.0,992.1 1996.5,993.2" fill="#4f7f4a"/>
<polygon points="1981.0,1004.1 1979.3,1007.0 1975.7,1007.0 1973.7,1004.1 1976.2,1002.2 1979.0,1001.8" fill="#6a8f5a"/>
<polygon points="1981.7,1008.3 1979.3,1010.5 1976.7,1010.3 1975.0,1008.3 1976.5,1006.2 1979.9,1005.3" fill="#4f7f4a"/>
<polygon points="1969.1,1014.8 1968.6,1018.5 1964.8,1017.1 1961.5,1014.8 1964.3,1011.7 1967.7,1012.7" fill="#2f5a30"/>
<polygon points="1449.8,1090.2 1651.5,1097.6 1693.8,999.7 1693.8,1356.2 1449.8,1356.2" fill="url(#tileL)"/>
<polygon points="1449.8,1089.8 1652.1,1097.3 1651.3,1100.4 1449.8,1092.9" fill="#5d575c"/>
<polygon points="1449.8,1093.5 1462.0,1093.5 1500.2,1194.8 1449.8,1194.8" fill="url(#pvL)" stroke="#e8ecf4" stroke-width="0.9"/>
<polygon points="1449.8,1196.0 1457.3,1196.0 1475.0,1247.0 1449.8,1247.0" fill="url(#pvL)" stroke="#e8ecf4" stroke-width="0.9"/>
<line x1="1449.8" y1="1117.7" x2="1471.1" y2="1117.7" stroke="#dfe4f0" stroke-width="0.8"/>
<line x1="1449.8" y1="1142.9" x2="1480.6" y2="1142.9" stroke="#dfe4f0" stroke-width="0.8"/>
<line x1="1449.8" y1="1168.5" x2="1490.3" y2="1168.5" stroke="#dfe4f0" stroke-width="0.8"/>
<line x1="1449.8" y1="1221.0" x2="1466.0" y2="1221.0" stroke="#dfe4f0" stroke-width="0.8"/>
<polygon points="1499.0,1103.5 1547.8,1103.5 1547.8,1158.0 1507.9,1158.0 1499.0,1137.4" fill="#8a6a62"/>
<polygon points="1499.0,1103.5 1507.9,1105.9 1507.9,1158.0 1499.0,1137.4" fill="#6f544e"/>
<polygon points="1507.9,1158.0 1547.8,1158.0 1552.1,1171.8 1508.9,1169.8" fill="#5b4644"/>
<polygon points="1495.7,1099.2 1552.1,1099.2 1548.6,1104.3 1499.0,1104.3" fill="#5a4742"/>
<rect x="1511.8" y="1108.9" width="7.6" height="7.6" fill="#6b2f2e"/>
<rect x="1523.6" y="1108.9" width="7.6" height="7.6" fill="#6b2f2e"/>
<rect x="1535.8" y="1108.9" width="7.6" height="7.6" fill="#6b2f2e"/>
<polygon points="1477.8,1107.9 1484.3,1107.9 1484.9,1125.6 1478.4,1125.6" fill="#5a4440"/>
<polygon points="1579.7,1169.3 1618.0,1169.3 1618.0,1176.7 1601.3,1212.1 1595.4,1223.0" fill="url(#tileL)"/>
<polygon points="1579.7,1169.3 1597.4,1218.0 1595.4,1235.8 1591.5,1251.5 1551.2,1246.6" fill="#2a2326"/>
<polygon points="1579.7,1169.3 1584.6,1173.8 1599.7,1214.1 1597.4,1225.9 1591.5,1216.1" fill="#54454a"/>
<polygon points="1579.7,1169.3 1582.0,1176.7 1556.1,1244.6 1550.6,1246.0" fill="#5a4a4c"/>
<polygon points="1580.7,1232.8 1594.4,1229.9 1595.4,1255.4 1580.7,1259.4" fill="#aaa6a2"/>
<polygon points="1692.9,1022.1 1618.0,1281.0 1651.5,1356.2 2000.0,1359.9 2000.0,1281.0 1818.9,1278.9" fill="url(#wallg)"/>
<polygon points="1634.8,1315.4 1651.5,1356.2 2000.0,1359.9 2000.0,1308.6 1700.0,1308.6" fill="#a1988d"/>
<polygon points="1837.9,1281.0 2000.0,1281.0 2000.0,1310.7 1837.9,1310.7" fill="#c9c2b6"/>
<polygon points="1837.9,1310.7 2000.0,1310.7 2000.0,1359.9 1837.9,1359.9" fill="#b5a894"/>
<polygon points="1693.8,1009.5 1715.4,1072.5 1701.7,1105.9 1695.8,1137.4 1618.0,1281.0 1585.6,1275.1" fill="#342d30"/>
<polygon points="1719.4,1078.4 1740.0,1129.5 1740.0,1117.7 1727.2,1105.9 1701.7,1107.9 1711.5,1090.2" fill="#b7b3af"/>
<polygon points="1691.4,1043.0 1696.7,1043.0 1698.1,1137.4 1692.8,1137.4" fill="#5c4244"/>
<polygon points="1656.4,1115.7 1729.2,1103.0 1731.2,1110.8 1657.4,1122.6" fill="#6a4c4c"/>
<polygon points="1673.1,1076.4 1679.0,1072.5 1693.8,1100.0 1690.8,1105.9" fill="#5c4244"/>
<polygon points="1710.5,1068.5 1714.4,1072.5 1699.7,1105.9 1695.8,1101.0" fill="#5c4244"/>
<polygon points="1685.9,1039.0 1697.7,1039.0 1697.7,1044.9 1685.9,1044.9" fill="#6f6a6a"/>
<polygon points="1597.4,1247.6 1632.8,1247.6 1632.8,1257.8 1597.4,1257.8" fill="#3a3034"/>
<polygon points="1585.6,1275.1 1618.0,1281.0 1618.0,1284.0 1585.6,1279.0" fill="#1e191b"/>
<polygon points="1692.1,1001.6 1696.1,1007.7 1597.4,1270.2 1591.5,1275.1 1581.6,1275.1 1580.1,1269.2" fill="#4d3d40"/>
<polygon points="1692.1,1001.6 1694.0,1004.8 1587.9,1273.1 1581.6,1275.1 1580.1,1269.2" fill="#6c5b5e"/>
<polygon points="1692.1,1001.6 1692.7,1002.8 1582.0,1270.4 1580.1,1269.2" fill="#85767a"/>
<rect x="1668.2" y="1171.8" width="7" height="81" fill="#a39f9b"/>
<rect x="1693.4" y="1168.9" width="7.5" height="83" fill="#a39f9b"/>
<rect x="1675.1" y="1171.8" width="12.2" height="80.7" fill="#2a2428"/><rect x="1680.2" y="1176.8" width="6.1" height="71.7" fill="#a9afba"/><rect x="1664.1" y="1252.5" width="23.2" height="3.6" fill="#3a3236"/>
<rect x="1700.7" y="1168.5" width="12.8" height="82.6" fill="#2a2428"/><rect x="1706.0" y="1173.5" width="6.4" height="73.6" fill="#a9afba"/><rect x="1689.7" y="1251.1" width="23.8" height="3.6" fill="#3a3236"/>
<rect x="1738.2" y="1163.2" width="7.5" height="84" fill="#a39f9b"/>
<rect x="1765.8" y="1183.4" width="8" height="63" fill="#a39f9b"/>
<rect x="1700.0" y="1167.5" width="13.2" height="83.8" fill="#2a2428"/><rect x="1705.5" y="1172.5" width="6.6" height="74.8" fill="#a9afba"/><rect x="1689.0" y="1251.3" width="24.2" height="3.6" fill="#3a3236"/>
<rect x="1745.6" y="1163.2" width="13.8" height="83.4" fill="#2a2428"/><rect x="1751.4" y="1168.2" width="6.9" height="74.4" fill="#a9afba"/><rect x="1734.6" y="1246.6" width="24.8" height="3.6" fill="#3a3236"/>
<rect x="1773.2" y="1194.0" width="14.2" height="51.6" fill="#2a2428"/><rect x="1779.2" y="1199.0" width="7.1" height="42.6" fill="#a9afba"/><rect x="1762.2" y="1245.6" width="25.2" height="3.6" fill="#3a3236"/>
<polygon points="1693.8,998.7 2000.0,1017.9 2000.0,1266.1 1818.8,1266.1" fill="url(#tileR)"/>
<polygon points="1693.8,997.7 2000.0,1016.2 2000.0,1020.0 1695.8,1003.2" fill="#5b5458"/>
<polygon points="1722.3,1034.9 1909.0,1044.4 1963.1,1143.5 1909.0,1164.7 1783.2,1160.5" fill="url(#pvR)"/>
<polygon points="1722.3,1034.9 1909.0,1044.4 1963.1,1143.5 1909.0,1164.7 1783.2,1160.5" fill="none" stroke="#aeb6c8" stroke-width="1"/>
<line x1="1784.4" y1="1038.1" x2="1848.5" y2="1162.2" stroke="#aeb6c8" stroke-width="1.0" opacity="0.85"/>
<line x1="1846.8" y1="1041.2" x2="1909.0" y2="1164.3" stroke="#aeb6c8" stroke-width="1.0" opacity="0.85"/>
<line x1="1753.0" y1="1096.4" x2="1937.6" y2="1103.8" stroke="#aeb6c8" stroke-width="1.0" opacity="0.85"/>
<line x1="1814.6" y1="1207.8" x2="2000.0" y2="1213.1" stroke="#6a4a48" stroke-width="1.6"/>
<line x1="1815.6" y1="1218.4" x2="2000.0" y2="1223.3" stroke="#5a4040" stroke-width="1.2" stroke-dasharray="2 1.5"/>
<polygon points="1814.6,1261.9 1827.3,1261.9 1827.3,1283.1 1814.6,1283.1" fill="#3a2e2e"/>
<polygon points="1692.1,1001.6 1698.5,1002.8 1821.3,1261.3 1818.1,1280.9 1812.5,1277.3 1692.9,1030.9" fill="#4b3a3d"/>
<polygon points="1694.0,1002.2 1698.5,1002.8 1821.3,1261.3 1817.0,1261.3" fill="#66525a"/>
<polygon points="1692.9,1030.9 1697.2,1030.1 1817.3,1279.9 1812.5,1277.3" fill="#5b494c"/>
<polygon points="1697.2,1030.1 1698.5,1030.1 1818.3,1278.9 1817.3,1279.9" fill="#2f2528"/>
<polygon points="1818.8,1264.4 2000.0,1264.4 2000.0,1272.5 1820.9,1272.5" fill="#5f4540"/>
<polygon points="1818.8,1264.4 2000.0,1264.4 2000.0,1266.6 1818.8,1266.6" fill="#7a5a52"/>
<polygon points="1818.8,1272.5 2000.0,1272.5 2000.0,1281.4 1822.0,1281.4" fill="#3a2e2e"/>
<path d="M1843.6,1270.4 L1843.6,1283.1 L1853.8,1310.7 L1853.8,1342.5" fill="none" stroke="#6a463e" stroke-width="5.5"/>
<polygon points="1506.9,1272.7 1582.6,1272.7 1618.0,1281.0 1652.1,1356.2 1489.2,1356.2 1485.2,1324.3" fill="url(#tileF)"/>
<polygon points="1507.9,1272.2 1581.6,1272.2 1581.6,1277.1 1510.8,1277.1" fill="#4e484e"/>
<polygon points="1506.9,1272.7 1514.8,1275.1 1536.4,1356.2 1489.2,1356.2 1484.9,1326.3" fill="#251f22"/>
<polygon points="1506.9,1272.7 1513.2,1275.1 1534.4,1340.0 1538.4,1356.2 1528.5,1356.2 1506.5,1286.9" fill="#4f4245"/>
<polygon points="1506.9,1272.7 1508.5,1283.0 1490.2,1332.2 1484.9,1326.3" fill="#54474a"/>
<polygon points="1618.0,1281.0 1622.0,1281.0 1654.4,1356.2 1649.5,1356.2" fill="#2b2528"/>
<polygon points="1473.4,1356.2 1475.6,1341.1 1480.5,1327.7 1484.3,1322.7 1488.6,1329.4 1493.5,1342.8 1495.1,1356.2" fill="#3b7a33"/>
<polygon points="1482.1,1356.2 1483.2,1329.4 1487.5,1339.4 1489.7,1356.2" fill="#2c5f28"/>
<polygon points="1538.4,1356.2 1540.7,1341.5 1546.0,1328.6 1550.2,1323.7 1554.9,1330.2 1560.2,1343.2 1562.0,1356.2" fill="#3b7a33"/>
<polygon points="1547.8,1356.2 1549.0,1330.2 1553.7,1339.9 1556.1,1356.2" fill="#2c5f28"/>
<polygon points="1575.7,1356.2 1577.5,1350.0 1581.5,1344.5 1584.6,1342.4 1588.1,1345.1 1592.1,1350.6 1593.5,1356.2" fill="#3b7a33"/>
<polygon points="1582.8,1356.2 1583.7,1345.1 1587.3,1349.3 1589.0,1356.2" fill="#2c5f28"/>
<polygon points="1612.1,1356.2 1614.1,1344.2 1618.5,1333.6 1622.0,1329.6 1625.9,1334.9 1630.3,1345.5 1631.8,1356.2" fill="#3b7a33"/>
<polygon points="1620.0,1356.2 1621.0,1334.9 1624.9,1342.9 1626.9,1356.2" fill="#2c5f28"/>
<polygon points="1708.5,1359.9 1710.6,1338.3 1721.2,1329.8 1736.1,1338.3 1755.2,1329.8 1770.0,1338.3 1789.1,1336.2 1806.1,1342.5 1835.8,1338.3 1848.5,1329.8 1861.3,1336.2 1882.5,1338.3 1897.3,1359.9" fill="#3f7d38"/>
<polygon points="1876.5,1354.6 1876.1,1356.7 1873.4,1357.8 1871.0,1355.9 1870.9,1353.1 1873.5,1352.0 1876.5,1351.9" fill="#47903f"/>
<polygon points="1811.6,1338.0 1809.0,1340.5 1805.4,1343.3 1801.3,1340.3 1802.7,1336.2 1805.6,1333.5 1809.0,1335.4" fill="#27522a"/>
<polygon points="1754.7,1342.6 1754.2,1346.7 1749.7,1346.3 1745.0,1345.0 1745.3,1340.3 1749.5,1338.2 1754.3,1338.5" fill="#27522a"/>
<polygon points="1819.2,1337.1 1815.7,1340.4 1811.5,1342.0 1807.6,1339.3 1809.2,1335.6 1812.0,1334.1 1816.0,1333.5" fill="#62ad52"/>
<polygon points="1740.7,1344.7 1737.4,1350.1 1731.0,1350.9 1728.1,1346.6 1727.7,1342.6 1731.0,1338.5 1737.2,1339.5" fill="#62ad52"/>
<polygon points="1721.4,1339.9 1717.0,1343.7 1712.0,1346.4 1706.4,1343.0 1708.8,1337.8 1712.0,1333.5 1717.0,1336.1" fill="#27522a"/>
<polygon points="1746.6,1343.9 1744.6,1349.0 1739.3,1347.2 1733.5,1346.8 1733.9,1341.2 1739.3,1340.5 1744.4,1339.1" fill="#27522a"/>
<polygon points="1861.0,1340.3 1859.9,1345.1 1853.8,1347.8 1849.3,1343.1 1850.0,1337.9 1854.5,1335.5 1858.7,1337.0" fill="#47903f"/>
<polygon points="1893.6,1353.0 1893.7,1356.3 1889.6,1357.3 1887.5,1354.4 1887.8,1351.7 1890.1,1350.3 1892.4,1351.0" fill="#62ad52"/>
<polygon points="1754.4,1340.7 1753.0,1344.8 1748.0,1346.1 1745.5,1342.4 1743.9,1338.3 1747.6,1333.7 1753.3,1336.3" fill="#27522a"/>
<polygon points="1810.2,1353.8 1806.8,1356.7 1802.9,1358.7 1800.8,1355.2 1800.1,1352.0 1803.3,1350.4 1807.1,1350.4" fill="#47903f"/>
<polygon points="1729.2,1345.5 1726.2,1347.8 1722.9,1350.2 1720.5,1347.0 1720.7,1344.0 1723.1,1341.6 1726.1,1343.2" fill="#27522a"/>
<polygon points="1749.3,1345.6 1748.2,1348.5 1744.6,1349.2 1741.6,1347.3 1741.1,1343.7 1744.5,1341.6 1747.3,1343.5" fill="#62ad52"/>
<polygon points="1753.4,1346.3 1753.9,1350.2 1749.3,1350.7 1747.8,1347.4 1746.4,1344.5 1749.7,1343.2 1753.9,1342.4" fill="#27522a"/>
<polygon points="1868.7,1342.9 1866.8,1345.5 1863.3,1347.9 1860.8,1344.5 1859.6,1340.7 1863.7,1339.5 1868.8,1338.1" fill="#47903f"/>
<polygon points="1836.4,1342.7 1833.9,1344.5 1831.8,1344.8 1830.2,1343.6 1828.9,1341.2 1831.4,1339.2 1835.0,1339.7" fill="#47903f"/>
<polygon points="1839.6,1350.4 1836.6,1354.5 1831.6,1355.9 1829.8,1351.8 1827.6,1348.1 1831.6,1344.9 1836.3,1346.7" fill="#47903f"/>
<polygon points="1801.5,1341.6 1800.0,1344.0 1797.0,1345.3 1794.8,1343.0 1794.1,1340.0 1797.1,1338.8 1800.7,1338.5" fill="#62ad52"/>
<polygon points="1819.4,1343.9 1815.6,1347.1 1811.8,1347.6 1808.0,1346.0 1806.5,1341.2 1811.6,1339.5 1817.4,1338.7" fill="#27522a"/>
<polygon points="1826.9,1347.5 1822.7,1350.3 1818.9,1352.9 1815.5,1349.5 1814.1,1344.8 1819.0,1342.8 1823.3,1344.0" fill="#62ad52"/>
<polygon points="1731.4,1345.7 1728.0,1349.2 1723.0,1353.1 1718.6,1348.4 1718.8,1343.1 1723.1,1338.4 1727.7,1342.5" fill="#27522a"/>
<polygon points="1856.4,1341.1 1856.2,1344.0 1852.8,1344.3 1849.1,1343.1 1849.8,1339.5 1852.7,1337.7 1856.8,1337.6" fill="#47903f"/>
<polygon points="1766.6,1355.1 1765.1,1358.4 1761.3,1358.5 1756.9,1357.3 1757.4,1353.0 1761.0,1350.4 1764.8,1352.0" fill="#62ad52"/>
<polygon points="1864.8,1352.5 1863.6,1355.1 1860.2,1356.7 1858.0,1354.0 1855.4,1350.0 1860.5,1349.5 1864.5,1348.9" fill="#27522a"/>
<polygon points="1775.2,1355.1 1772.8,1357.7 1769.9,1357.6 1766.3,1357.0 1767.5,1353.8 1769.6,1351.4 1772.0,1353.5" fill="#47903f"/>
<polygon points="1747.9,1357.7 1743.4,1361.1 1738.9,1364.0 1735.9,1359.7 1734.3,1355.1 1739.3,1353.1 1744.4,1353.3" fill="#27522a"/>
<polygon points="1695.8,1356.2 1701.7,1340.0 1715.4,1332.2 1723.3,1326.3 1731.2,1336.1 1740.0,1338.1 1740.0,1356.2" fill="#4d8a3c"/>
<polygon points="1962.2,988.9 1947.0,1011.7 1932.8,1035.7 1935.0,1061.7 1950.2,1074.8 1953.5,1096.5 1976.3,1109.6 1981.7,1129.1 2003.5,1131.3 2003.5,981.3 1981.7,994.3" fill="#265628"/>
<polygon points="1906.7,1135.7 1914.3,1127.0 1927.4,1135.7 1931.7,1148.7 1942.6,1144.3 1953.5,1148.7 1964.3,1144.3 1975.2,1157.4 1988.3,1148.7 2003.5,1148.7 2003.5,1209.6 1981.7,1207.4 1973.0,1196.5 1953.5,1183.5 1942.6,1196.5 1925.2,1185.7 1914.3,1168.3 1905.7,1148.7" fill="#265628"/>
<polygon points="1849.1,1262.8 1854.6,1249.8 1860.0,1243.3 1873.0,1235.7 1888.3,1240.0 1899.1,1231.3 1912.2,1233.5 1925.2,1237.8 1929.6,1250.9 1942.6,1257.4 1944.8,1270.4 1962.2,1274.8 1970.9,1244.3 1990.4,1240.0 2003.5,1244.3 2003.5,1360.0 1951.3,1360.0 1942.6,1331.3 1925.2,1320.4 1903.5,1309.6 1901.3,1285.7 1888.3,1279.1 1873.0,1266.1 1860.0,1261.7" fill="#265628"/>
<polygon points="1894.8,1309.6 1906.7,1307.4 1914.3,1322.6 1929.6,1329.1 1931.7,1342.2 1916.5,1344.3 1899.1,1337.8" fill="#265628"/>
<polygon points="1992.6,1209.6 2003.5,1209.6 2003.5,1244.3 1994.8,1244.3" fill="#3a3a2a"/>
<polygon points="1963.4,1039.8 1962.3,1045.0 1956.4,1045.1 1952.5,1042.1 1953.3,1037.9 1956.3,1033.9 1960.9,1036.3" fill="#3a8236"/>
<polygon points="2009.0,1073.3 2003.3,1079.3 1996.0,1080.9 1990.6,1076.5 1992.1,1070.8 1996.7,1068.4 2002.8,1067.9" fill="#1d4320"/>
<polygon points="1929.8,1274.5 1930.6,1279.4 1925.4,1278.1 1920.0,1277.2 1920.2,1271.9 1925.4,1270.7 1929.6,1270.8" fill="#1d4320"/>
<polygon points="1915.7,1136.3 1914.6,1141.3 1908.1,1144.4 1903.7,1139.1 1904.7,1133.9 1908.3,1129.0 1914.2,1131.8" fill="#1d4320"/>
<polygon points="1969.7,1000.5 1968.1,1004.0 1964.1,1003.9 1959.7,1002.8 1961.4,998.9 1963.7,995.5 1967.8,997.3" fill="#1d4320"/>
<polygon points="1956.5,1276.5 1954.4,1278.7 1951.5,1280.2 1949.1,1278.0 1949.3,1275.2 1951.9,1274.4 1954.5,1274.1" fill="#1a3d1e"/>
<polygon points="1949.2,1060.0 1949.4,1064.9 1944.1,1064.1 1939.4,1062.5 1941.2,1058.3 1944.0,1055.6 1949.2,1055.4" fill="#23522a"/>
<polygon points="1992.8,1317.0 1991.2,1319.6 1987.9,1320.9 1982.4,1319.8 1984.8,1315.3 1987.4,1311.2 1993.1,1312.3" fill="#23522a"/>
<polygon points="1979.4,1350.8 1975.5,1354.0 1971.8,1354.2 1967.9,1352.8 1966.0,1347.9 1971.7,1347.1 1976.2,1346.7" fill="#23522a"/>
<polygon points="1995.9,1275.2 1996.1,1282.6 1987.4,1283.7 1982.1,1278.4 1981.8,1271.8 1987.7,1267.6 1995.1,1269.0" fill="#2a622c"/>
<polygon points="1886.2,1262.0 1885.0,1265.1 1881.4,1265.4 1879.1,1263.4 1878.8,1260.5 1881.6,1259.5 1884.8,1259.1" fill="#23522a"/>
<polygon points="1952.2,1192.6 1949.2,1197.6 1943.5,1197.5 1941.0,1194.2 1940.2,1190.6 1943.0,1185.6 1947.5,1189.4" fill="#23522a"/>
<polygon points="1977.9,1066.5 1976.2,1070.2 1971.5,1071.9 1968.8,1068.2 1968.6,1064.6 1971.6,1061.4 1974.9,1064.2" fill="#23522a"/>
<polygon points="1988.9,1197.8 1986.2,1204.0 1979.1,1204.2 1972.8,1201.3 1972.8,1194.4 1978.9,1190.7 1986.4,1191.4" fill="#1d4320"/>
<polygon points="1979.8,1052.9 1976.2,1056.1 1972.3,1057.0 1969.0,1054.8 1969.6,1051.3 1971.9,1047.4 1976.6,1049.3" fill="#2f6d2f"/>
<polygon points="1977.9,1179.5 1975.4,1182.4 1971.8,1183.8 1969.7,1180.9 1970.6,1178.5 1972.0,1175.9 1975.0,1177.2" fill="#1d4320"/>
<polygon points="1978.7,1027.0 1977.9,1029.8 1974.5,1030.6 1971.4,1028.8 1972.2,1025.6 1974.9,1024.8 1978.3,1023.8" fill="#3a8236"/>
<polygon points="1973.5,1307.9 1973.4,1313.0 1967.5,1313.4 1961.9,1310.9 1962.3,1305.1 1967.4,1302.0 1973.3,1302.9" fill="#3a8236"/>
<polygon points="1991.4,1037.8 1989.6,1041.7 1984.7,1043.7 1982.8,1039.3 1980.5,1035.4 1985.0,1033.3 1990.3,1033.1" fill="#2f6d2f"/>
<polygon points="1965.2,1293.1 1965.4,1298.5 1959.7,1296.6 1953.8,1296.0 1956.2,1291.2 1959.3,1287.8 1963.5,1289.8" fill="#2f6d2f"/>
<polygon points="1916.4,1139.4 1913.5,1141.9 1910.4,1142.9 1908.0,1140.9 1908.3,1138.1 1910.6,1136.7 1913.3,1137.1" fill="#1a3d1e"/>
<polygon points="1958.7,1066.3 1958.2,1070.3 1953.3,1071.6 1948.2,1069.1 1950.2,1064.4 1953.4,1061.5 1957.0,1063.6" fill="#23522a"/>
<polygon points="1994.1,993.9 1988.0,997.8 1982.6,1001.6 1978.3,996.6 1976.0,990.2 1982.4,985.4 1989.9,987.8" fill="#1a3d1e"/>
<polygon points="1979.8,1315.2 1974.8,1321.4 1968.0,1320.1 1959.4,1319.4 1963.8,1312.8 1967.2,1307.2 1974.9,1308.8" fill="#4f9c41"/>
<polygon points="2004.9,1262.8 2003.3,1266.5 1998.7,1268.1 1993.3,1265.7 1993.3,1259.8 1998.9,1258.5 2004.7,1257.5" fill="#3a8236"/>
<polygon points="1977.7,1000.0 1978.4,1006.1 1971.2,1006.7 1968.1,1002.1 1966.9,997.3 1971.3,993.3 1976.9,995.4" fill="#23522a"/>
<polygon points="1944.4,1264.1 1945.1,1269.2 1939.2,1269.9 1936.9,1265.7 1936.6,1262.4 1939.3,1258.7 1943.7,1260.6" fill="#2a622c"/>
<polygon points="1917.6,1267.9 1916.3,1274.7 1908.0,1276.7 1904.6,1270.3 1900.7,1263.7 1908.0,1259.2 1915.5,1261.9" fill="#4f9c41"/>
<polygon points="1967.6,1318.2 1965.1,1323.1 1959.4,1323.4 1956.5,1320.0 1955.2,1315.7 1959.5,1313.1 1963.7,1314.8" fill="#2f6d2f"/>
<polygon points="1967.8,1002.7 1967.6,1006.8 1962.4,1008.7 1958.1,1005.2 1957.3,999.8 1962.3,996.1 1968.2,997.9" fill="#1d4320"/>
<polygon points="2010.7,1351.5 2005.4,1355.9 1999.8,1358.1 1994.7,1354.4 1993.4,1348.0 1999.9,1345.5 2006.7,1345.6" fill="#4f9c41"/>
<polygon points="1964.9,1080.8 1963.1,1084.3 1959.2,1084.0 1955.7,1082.6 1954.8,1078.5 1958.6,1075.1 1962.6,1077.9" fill="#23522a"/>
<polygon points="1962.8,1353.4 1960.2,1357.6 1955.5,1357.3 1952.7,1355.0 1950.8,1350.9 1955.6,1350.0 1959.2,1350.3" fill="#1d4320"/>
<polygon points="1976.0,1177.1 1974.4,1180.4 1970.4,1180.9 1967.8,1178.6 1966.3,1174.8 1970.8,1174.6 1974.8,1173.2" fill="#23522a"/>
<polygon points="1894.0,1276.3 1890.2,1279.6 1885.4,1283.6 1879.7,1279.5 1882.4,1274.1 1886.0,1271.2 1892.7,1270.2" fill="#23522a"/>
<polygon points="1870.7,1256.4 1868.1,1258.9 1865.1,1259.6 1861.6,1258.3 1863.2,1255.2 1865.3,1254.0 1867.9,1254.2" fill="#23522a"/>
<polygon points="1979.5,1097.3 1976.1,1102.2 1970.1,1104.0 1963.6,1100.9 1963.6,1093.8 1970.5,1092.3 1975.3,1093.3" fill="#1d4320"/>
<polygon points="1981.4,1268.2 1975.8,1272.1 1970.7,1274.9 1966.3,1270.8 1967.0,1265.8 1971.2,1263.5 1977.0,1263.0" fill="#23522a"/>
<polygon points="1984.2,1305.9 1983.0,1310.7 1976.8,1313.6 1974.4,1307.8 1973.1,1303.5 1976.7,1298.0 1982.5,1301.6" fill="#2f6d2f"/>
<polygon points="1904.7,1232.0 1905.1,1238.8 1897.8,1236.9 1892.9,1234.6 1893.3,1229.5 1897.7,1226.7 1902.7,1227.9" fill="#2f6d2f"/>
<polygon points="1934.8,1302.1 1933.3,1304.6 1930.1,1306.2 1927.0,1303.9 1927.0,1300.4 1930.3,1299.1 1934.2,1298.7" fill="#23522a"/>
<polygon points="1958.5,1052.2 1956.3,1057.4 1949.5,1060.9 1942.2,1056.3 1941.8,1047.9 1949.6,1043.8 1956.7,1046.5" fill="#1d4320"/>
<polygon points="2006.1,1313.7 2005.1,1318.7 1999.5,1318.1 1995.6,1315.8 1993.2,1310.5 1999.1,1307.7 2005.1,1308.6" fill="#2f6d2f"/>
<polygon points="1957.3,1162.9 1955.1,1166.9 1950.2,1167.9 1946.7,1164.9 1947.4,1161.1 1950.5,1159.2 1954.3,1159.6" fill="#23522a"/>
<polygon points="1989.3,1098.0 1986.6,1100.1 1983.6,1102.4 1980.9,1099.7 1981.4,1096.6 1983.6,1093.8 1987.6,1094.8" fill="#23522a"/>
<polygon points="1947.5,1280.7 1942.8,1286.6 1936.3,1286.1 1928.3,1284.8 1929.7,1277.3 1935.9,1274.0 1944.3,1273.2" fill="#1d4320"/>
<polygon points="1974.0,1056.5 1974.3,1060.2 1970.5,1058.8 1967.9,1057.8 1966.3,1054.4 1970.1,1052.6 1973.5,1053.8" fill="#3a8236"/>
<polygon points="1943.6,1156.6 1938.8,1160.7 1933.9,1161.9 1930.1,1158.8 1928.5,1153.7 1933.3,1149.2 1938.3,1153.1" fill="#23522a"/>
<polygon points="1905.7,1233.1 1901.8,1236.6 1896.5,1241.9 1891.5,1236.3 1891.4,1229.9 1897.3,1227.4 1901.9,1229.5" fill="#2f6d2f"/>
<polygon points="1993.4,1282.6 1992.4,1285.6 1988.5,1287.0 1984.7,1284.7 1985.3,1280.6 1988.4,1277.7 1992.2,1279.7" fill="#4f9c41"/>
<polygon points="1961.7,1328.2 1961.4,1334.5 1954.3,1334.2 1950.4,1330.6 1946.8,1324.3 1954.4,1322.5 1961.1,1322.3" fill="#1d4320"/>
<polygon points="1941.2,1286.0 1941.2,1292.8 1933.0,1294.4 1930.3,1288.1 1929.1,1283.4 1933.2,1278.2 1941.4,1279.0" fill="#3a8236"/>
<polygon points="1933.0,1251.1 1929.6,1255.2 1924.2,1258.2 1916.4,1255.3 1919.7,1248.4 1924.5,1244.9 1929.8,1246.8" fill="#4f9c41"/>
<polygon points="2009.3,1041.6 2005.6,1047.0 1999.1,1048.8 1994.1,1044.6 1997.2,1040.0 1999.6,1036.4 2003.9,1038.3" fill="#3a8236"/>
<polygon points="1963.3,1353.7 1962.4,1358.2 1957.4,1357.5 1952.4,1356.3 1954.4,1352.0 1957.1,1348.5 1961.4,1350.3" fill="#23522a"/>
<polygon points="1942.5,1273.7 1938.7,1277.0 1934.7,1277.6 1931.8,1275.4 1927.7,1270.2 1934.3,1268.0 1940.6,1268.2" fill="#4f9c41"/>
<polygon points="1918.8,1292.2 1916.8,1295.6 1912.5,1297.3 1908.5,1294.4 1908.9,1290.0 1912.8,1288.0 1918.2,1287.2" fill="#1d4320"/>
<polygon points="1952.5,1069.4 1950.8,1073.1 1946.4,1074.1 1942.9,1071.4 1942.7,1067.3 1946.6,1065.8 1951.6,1064.9" fill="#1d4320"/>
<polygon points="1989.6,1070.5 1985.5,1075.0 1980.0,1076.7 1972.3,1074.5 1972.7,1066.6 1980.0,1064.2 1987.2,1064.2" fill="#3a8236"/>
<polygon points="1973.9,1312.9 1972.2,1316.9 1967.3,1318.1 1963.9,1314.9 1963.1,1310.5 1967.5,1308.3 1973.1,1307.8" fill="#2a622c"/>
<polygon points="1985.1,1011.7 1983.4,1014.9 1979.4,1016.4 1974.7,1014.3 1975.1,1009.4 1979.5,1007.7 1983.1,1008.8" fill="#23522a"/>
<polygon points="1865.9,1252.5 1864.9,1256.4 1860.1,1257.8 1857.0,1254.4 1855.9,1250.1 1860.0,1246.6 1864.6,1249.0" fill="#2f6d2f"/>
<polygon points="1937.0,1150.9 1936.5,1153.8 1933.0,1154.4 1931.0,1152.1 1931.2,1149.7 1933.1,1147.6 1936.4,1148.1" fill="#4f9c41"/>
<polygon points="1951.2,1328.4 1950.6,1334.5 1943.9,1333.6 1935.0,1332.8 1937.6,1325.1 1943.1,1320.1 1950.0,1323.1" fill="#23522a"/>
<polygon points="1908.1,1257.5 1904.8,1264.1 1897.1,1264.8 1891.5,1260.7 1889.5,1253.5 1897.0,1250.0 1904.3,1251.5" fill="#1a3d1e"/>
<polygon points="1925.5,1283.1 1924.7,1286.2 1920.9,1287.2 1918.9,1284.5 1918.7,1281.7 1921.2,1280.3 1924.3,1280.5" fill="#2f6d2f"/>
<polygon points="1982.9,1334.0 1981.3,1337.2 1976.9,1340.1 1975.1,1335.5 1974.4,1332.2 1977.2,1328.8 1982.6,1329.4" fill="#4f9c41"/>
<polygon points="2004.9,1130.1 2000.7,1132.8 1997.5,1133.7 1992.1,1132.8 1994.8,1128.6 1997.5,1126.8 2001.6,1126.5" fill="#4f9c41"/>
<polygon points="1914.2,1306.9 1913.6,1309.9 1910.1,1310.1 1905.2,1309.3 1906.0,1304.7 1909.6,1301.8 1914.4,1302.9" fill="#1d4320"/>
<polygon points="1960.4,1289.9 1958.4,1293.4 1954.8,1292.3 1952.4,1291.2 1952.0,1288.5 1954.6,1287.0 1957.3,1287.8" fill="#1a3d1e"/>
<polygon points="1998.1,1085.4 1996.2,1088.8 1991.1,1093.7 1988.5,1087.5 1985.0,1081.9 1991.8,1079.9 1997.2,1081.0" fill="#3a8236"/>
<polygon points="1935.6,1316.9 1933.5,1323.5 1926.3,1322.5 1922.6,1319.1 1920.7,1313.9 1926.0,1310.2 1932.7,1311.3" fill="#3a8236"/>
<polygon points="2001.1,1065.7 1999.9,1072.8 1992.2,1071.7 1985.7,1069.2 1986.7,1062.7 1991.6,1057.5 2000.3,1058.3" fill="#1d4320"/>
<polygon points="1982.1,1344.0 1980.2,1346.5 1977.1,1347.4 1973.5,1346.0 1974.3,1342.4 1977.0,1340.0 1980.6,1341.1" fill="#2a622c"/>
<polygon points="1998.0,1076.1 1995.9,1082.9 1988.3,1082.2 1984.7,1078.3 1984.9,1074.0 1987.4,1066.7 1995.2,1070.0" fill="#23522a"/>
<polygon points="1957.8,1025.7 1957.7,1030.7 1951.9,1030.9 1948.4,1027.8 1948.3,1023.5 1951.5,1018.6 1957.9,1020.5" fill="#1d4320"/>
<polygon points="1979.8,1069.9 1979.7,1074.2 1974.5,1075.7 1971.2,1072.0 1971.2,1067.9 1975.0,1066.1 1978.9,1066.6" fill="#23522a"/>
<polygon points="1965.5,1173.3 1962.3,1179.1 1955.4,1180.8 1949.2,1176.8 1953.1,1171.6 1955.6,1166.8 1960.5,1169.7" fill="#23522a"/>
<polygon points="1951.3,1312.9 1949.4,1316.8 1944.8,1317.6 1940.4,1315.4 1943.1,1311.7 1944.5,1307.2 1949.3,1309.2" fill="#4f9c41"/>
<polygon points="1914.6,1305.9 1912.1,1309.0 1908.7,1308.8 1904.5,1308.0 1905.0,1304.0 1908.2,1301.2 1913.1,1301.8" fill="#3a8236"/>
<polygon points="1959.6,1299.4 1957.7,1303.0 1953.7,1302.7 1949.5,1301.6 1950.9,1297.8 1953.6,1295.7 1957.9,1295.7" fill="#2a622c"/>
<polygon points="1962.4,1157.9 1957.8,1163.6 1951.0,1164.5 1945.7,1160.9 1946.4,1155.2 1951.2,1152.0 1957.9,1152.0" fill="#3a8236"/>
<polygon points="1962.2,1281.9 1960.4,1286.2 1955.0,1288.4 1951.6,1284.1 1952.5,1280.1 1955.5,1277.5 1961.2,1276.8" fill="#4f9c41"/>
<polygon points="1954.4,1317.5 1952.6,1321.7 1947.7,1322.2 1945.4,1319.0 1944.5,1315.6 1948.1,1314.2 1952.5,1313.4" fill="#23522a"/>
<polygon points="1913.0,1328.0 1910.8,1333.7 1904.6,1332.4 1901.4,1329.9 1901.5,1326.2 1904.2,1322.1 1909.8,1323.4" fill="#2f6d2f"/>
<polygon points="1988.8,1205.7 1988.5,1208.1 1985.7,1208.5 1983.3,1207.0 1982.2,1203.9 1985.6,1202.8 1988.1,1203.8" fill="#2f6d2f"/>
<polygon points="1968.9,1170.1 1967.7,1174.3 1962.9,1174.0 1959.2,1172.1 1958.4,1167.7 1962.8,1165.4 1967.6,1166.0" fill="#2f6d2f"/>
<polygon points="1961.7,1024.3 1958.7,1031.4 1950.1,1033.3 1945.9,1027.1 1946.9,1021.9 1950.7,1017.9 1956.1,1020.1" fill="#2f6d2f"/>
<polygon points="1983.3,1096.6 1981.0,1100.2 1976.9,1100.3 1974.8,1097.9 1974.8,1095.3 1976.7,1092.2 1981.1,1092.9" fill="#23522a"/>
<polygon points="1968.4,1283.6 1963.5,1287.1 1958.9,1289.4 1955.3,1285.8 1951.3,1279.7 1958.6,1276.7 1965.4,1277.9" fill="#1a3d1e"/>
<polygon points="1876.8,1262.1 1877.3,1268.9 1869.8,1267.7 1862.9,1265.7 1863.0,1258.5 1869.0,1253.0 1877.1,1255.5" fill="#1a3d1e"/>
<polygon points="1987.5,1348.2 1986.5,1353.2 1980.0,1356.6 1974.8,1351.4 1977.6,1346.2 1980.2,1340.5 1987.0,1342.7" fill="#2f6d2f"/>
<polygon points="1988.1,1287.7 1985.3,1291.2 1981.4,1291.0 1978.1,1289.4 1979.2,1286.3 1981.4,1284.7 1985.6,1283.8" fill="#23522a"/>
<polygon points="1940.0,1184.2 1938.6,1185.8 1936.5,1186.8 1934.3,1185.4 1932.9,1182.3 1936.5,1181.5 1938.8,1182.3" fill="#3a8236"/>
<polygon points="1894.7,1273.2 1891.4,1279.0 1884.5,1279.9 1879.8,1276.0 1879.8,1270.4 1885.2,1268.9 1890.9,1267.9" fill="#1a3d1e"/>
<polygon points="1901.3,1268.3 1899.7,1271.4 1896.2,1271.6 1894.7,1269.3 1893.9,1267.0 1896.1,1264.8 1899.4,1265.7" fill="#23522a"/>
<polygon points="1961.0,1075.1 1958.2,1077.4 1955.0,1079.7 1952.9,1076.5 1951.6,1073.1 1955.2,1071.3 1958.3,1072.6" fill="#3a8236"/>
<polygon points="1937.3,1299.9 1935.8,1303.6 1931.4,1304.2 1929.0,1301.4 1928.3,1298.1 1931.4,1295.6 1934.9,1297.2" fill="#23522a"/>
<polygon points="1931.7,1338.8 1931.9,1342.5 1927.7,1342.3 1924.5,1340.6 1924.7,1337.1 1927.5,1334.6 1931.4,1335.7" fill="#3a8236"/>
<polygon points="1972.4,1276.1 1968.3,1280.6 1962.6,1282.7 1960.2,1277.8 1956.9,1272.9 1962.9,1270.6 1968.7,1271.0" fill="#1a3d1e"/>
<polygon points="1976.2,1008.7 1973.7,1013.3 1968.1,1014.5 1963.8,1011.2 1961.5,1005.2 1968.0,1002.6 1974.3,1003.3" fill="#1a3d1e"/>
<polygon points="1965.2,1317.4 1962.9,1319.7 1959.9,1320.8 1957.7,1318.7 1955.8,1315.2 1960.1,1314.5 1963.1,1314.8" fill="#4f9c41"/>
<polygon points="1977.7,1351.6 1971.6,1355.4 1966.0,1359.9 1963.4,1353.6 1958.6,1347.4 1965.9,1342.6 1974.2,1344.7" fill="#23522a"/>
<polygon points="1878.0,1241.1 1873.1,1244.4 1869.0,1245.8 1865.5,1243.2 1864.0,1238.5 1869.1,1236.7 1873.1,1237.9" fill="#1d4320"/>
<polygon points="1987.4,1068.3 1985.3,1070.8 1982.1,1072.4 1980.3,1069.5 1978.7,1066.4 1982.1,1064.2 1985.2,1065.9" fill="#23522a"/>
<polygon points="1922.4,1290.6 1922.5,1294.3 1918.2,1294.6 1915.6,1292.2 1914.9,1288.7 1918.5,1288.0 1922.6,1286.8" fill="#23522a"/>
<polygon points="1972.3,1081.1 1970.8,1086.0 1965.3,1085.4 1961.5,1083.2 1958.3,1077.6 1965.1,1075.6 1970.4,1076.6" fill="#4f9c41"/>
<polygon points="1980.9,1248.0 1980.6,1252.4 1975.4,1253.2 1971.1,1250.5 1973.6,1246.7 1975.7,1243.8 1980.1,1244.3" fill="#1a3d1e"/>
<polygon points="1993.3,1326.8 1993.6,1333.2 1986.0,1334.2 1980.3,1330.0 1979.8,1323.3 1986.7,1322.1 1990.7,1323.5" fill="#2f6d2f"/>
<polygon points="1974.4,1177.3 1972.2,1179.3 1969.5,1181.1 1966.9,1178.9 1966.8,1175.7 1969.8,1174.7 1973.1,1174.4" fill="#23522a"/>
<polygon points="1951.8,1348.1 1951.9,1352.8 1946.7,1352.1 1942.0,1350.5 1942.9,1346.0 1946.2,1342.0 1951.1,1344.2" fill="#2a622c"/>
<polygon points="1981.2,1080.6 1977.8,1083.1 1974.1,1086.3 1971.5,1082.3 1970.5,1078.4 1974.4,1076.4 1978.8,1076.8" fill="#23522a"/>
<polygon points="1911.3,1240.8 1909.6,1243.7 1906.1,1244.3 1904.2,1242.0 1904.1,1239.5 1906.3,1237.9 1910.2,1237.1" fill="#23522a"/>
<polygon points="2007.0,1313.0 2002.4,1316.7 1997.6,1318.7 1992.9,1315.7 1995.6,1311.5 1998.0,1308.9 2002.7,1308.9" fill="#2a622c"/>
<polygon points="1916.6,1255.3 1915.1,1258.6 1910.8,1260.5 1904.9,1258.4 1906.4,1252.8 1911.0,1250.7 1915.4,1251.6" fill="#3a8236"/>
<polygon points="1927.3,1313.0 1923.8,1316.8 1919.0,1318.6 1913.5,1316.0 1914.5,1310.4 1919.4,1309.1 1923.5,1309.5" fill="#1a3d1e"/>
<polygon points="1994.7,1096.0 1993.9,1100.6 1988.1,1102.4 1985.6,1097.8 1983.2,1093.1 1988.4,1090.4 1994.7,1090.4" fill="#1d4320"/>
<polygon points="1958.4,1072.3 1957.9,1076.1 1953.4,1076.6 1949.9,1074.3 1951.3,1071.0 1953.6,1068.7 1957.9,1068.5" fill="#2a622c"/>
<polygon points="2004.9,1327.5 1999.9,1331.4 1994.6,1334.7 1989.8,1330.4 1988.7,1324.2 1994.8,1321.2 2001.6,1321.7" fill="#2a622c"/>
<polygon points="1995.5,1064.2 1995.1,1067.6 1991.1,1068.4 1988.6,1065.7 1988.6,1062.7 1991.0,1059.6 1995.2,1060.8" fill="#2a622c"/>
<polygon points="1932.5,1158.7 1929.7,1162.5 1924.4,1166.2 1921.2,1161.0 1920.5,1156.2 1924.8,1152.8 1929.5,1155.1" fill="#3a8236"/>
<polygon points="1984.1,1053.2 1980.0,1058.4 1974.0,1058.8 1967.0,1056.8 1967.8,1049.9 1974.3,1048.7 1980.0,1048.0" fill="#23522a"/>
<polygon points="2001.9,1340.9 1997.1,1344.6 1992.5,1346.2 1985.8,1344.3 1984.4,1336.8 1991.6,1331.9 1999.1,1334.9" fill="#4f9c41"/>
<polygon points="1905.1,1234.7 1903.8,1238.3 1899.5,1238.8 1894.9,1237.1 1896.3,1232.9 1898.6,1227.1 1906.0,1228.5" fill="#2f6d2f"/>
<polygon points="1956.4,1305.1 1953.6,1308.8 1948.9,1310.6 1942.9,1308.3 1944.4,1302.6 1948.8,1299.2 1955.5,1299.3" fill="#1d4320"/>
<polygon points="1956.3,1312.7 1952.1,1315.7 1948.2,1317.5 1946.2,1314.1 1945.1,1310.8 1948.3,1308.3 1951.7,1310.1" fill="#4f9c41"/>
<polygon points="2011.3,1258.0 2006.9,1264.1 2000.3,1262.7 1996.1,1260.3 1996.0,1255.6 2000.0,1251.8 2005.1,1253.9" fill="#1d4320"/>
<polygon points="1956.7,1183.4 1951.6,1186.5 1947.4,1189.1 1944.7,1185.2 1941.4,1180.2 1947.1,1176.6 1954.1,1177.5" fill="#23522a"/>
<polygon points="1926.2,1160.9 1920.0,1164.7 1915.0,1167.2 1912.0,1162.8 1910.7,1158.3 1915.3,1155.7 1920.0,1157.0" fill="#4f9c41"/>
<polygon points="1946.4,1063.1 1945.7,1070.9 1937.4,1068.1 1929.2,1067.2 1932.1,1060.2 1937.4,1057.8 1943.2,1058.0" fill="#3a8236"/>
<polygon points="1991.9,1305.3 1988.8,1309.2 1984.3,1309.7 1979.7,1307.8 1978.8,1302.5 1984.3,1301.0 1990.1,1300.0" fill="#1d4320"/>
<polygon points="1995.3,1318.2 1992.1,1323.5 1986.0,1323.8 1980.5,1321.2 1981.8,1315.7 1986.4,1314.1 1993.2,1311.6" fill="#2a622c"/>
<polygon points="2000.8,1056.6 2000.4,1060.4 1996.3,1059.9 1991.3,1059.1 1991.1,1054.0 1996.2,1052.9 2001.6,1051.6" fill="#23522a"/>
<polygon points="1929.9,1251.7 1927.4,1254.0 1924.6,1254.7 1920.2,1254.0 1920.2,1249.5 1924.3,1247.4 1928.8,1247.8" fill="#23522a"/>
<polygon points="1979.4,994.9 1976.2,998.1 1972.2,999.4 1967.0,997.6 1968.4,992.7 1971.8,989.1 1975.8,992.1" fill="#3a8236"/>
<polygon points="1993.9,1338.1 1991.9,1342.3 1987.3,1341.5 1985.4,1339.3 1984.5,1336.5 1987.0,1333.4 1990.1,1335.8" fill="#4f9c41"/>
<polygon points="1980.2,1079.3 1978.1,1082.3 1974.3,1083.7 1970.4,1081.5 1972.1,1077.8 1974.0,1073.6 1978.2,1076.2" fill="#1a3d1e"/>
<polygon points="2000.5,1206.6 1996.4,1211.9 1989.5,1215.1 1986.3,1208.9 1983.0,1202.9 1990.0,1200.2 1997.2,1200.3" fill="#2f6d2f"/>
<polygon points="2003.2,1124.9 1998.9,1130.0 1992.8,1131.0 1986.5,1128.3 1985.0,1120.8 1992.4,1117.3 1999.3,1119.3" fill="#3a8236"/>
<polygon points="1986.7,1088.3 1983.4,1094.6 1976.0,1095.6 1972.9,1090.4 1970.8,1085.3 1976.0,1081.3 1982.9,1082.5" fill="#2a622c"/>
<polygon points="1944.4,1285.7 1943.2,1287.7 1940.6,1289.2 1937.4,1287.5 1939.1,1284.7 1940.6,1282.4 1943.3,1283.6" fill="#23522a"/>
<polygon points="1937.2,1187.2 1933.0,1191.8 1927.1,1194.1 1922.9,1189.7 1922.8,1184.5 1927.6,1182.1 1933.7,1181.7" fill="#23522a"/>
<polygon points="2002.8,1275.0 2002.0,1279.3 1997.2,1279.0 1993.9,1276.9 1992.9,1272.7 1997.1,1270.6 2001.6,1271.1" fill="#23522a"/>
<polygon points="1988.9,1355.3 1988.1,1357.9 1984.9,1358.8 1983.0,1356.5 1983.0,1354.1 1984.8,1351.3 1988.5,1352.3" fill="#2a622c"/>
<polygon points="1986.0,1286.7 1983.7,1290.4 1979.3,1290.5 1974.3,1289.3 1975.8,1284.7 1978.9,1281.1 1982.9,1283.7" fill="#1d4320"/>
<polygon points="1974.8,1034.5 1971.8,1037.5 1967.4,1041.6 1965.1,1036.2 1962.3,1031.5 1968.0,1029.9 1973.9,1029.2" fill="#2a622c"/>
<polygon points="1911.0,1324.9 1911.5,1328.8 1906.9,1329.2 1903.2,1326.9 1903.8,1323.1 1907.0,1321.1 1911.6,1320.8" fill="#23522a"/>
<polygon points="1980.1,1330.1 1979.0,1333.7 1974.7,1334.6 1972.4,1331.6 1970.6,1327.8 1974.3,1324.2 1980.1,1325.3" fill="#1d4320"/>
<polygon points="1994.4,1063.2 1992.6,1068.7 1985.7,1071.4 1981.2,1066.1 1981.6,1060.5 1986.5,1058.0 1992.7,1057.7" fill="#23522a"/>
<polygon points="1922.4,1161.2 1922.1,1167.8 1914.9,1166.4 1910.6,1163.7 1911.9,1159.4 1914.3,1153.5 1921.1,1155.7" fill="#2a622c"/>
<polygon points="1973.9,998.6 1972.4,1003.1 1967.7,1001.6 1963.9,1000.6 1962.4,996.0 1966.9,992.6 1971.8,994.8" fill="#2a622c"/>
<polygon points="1918.1,1275.9 1915.5,1281.9 1907.8,1285.1 1904.6,1278.3 1903.6,1273.1 1908.7,1270.2 1913.6,1272.0" fill="#3a8236"/>
<polygon points="1861.2,1255.0 1858.7,1261.0 1851.5,1262.2 1848.9,1256.9 1845.7,1251.7 1852.0,1249.8 1858.6,1249.1" fill="#2a622c"/>
<polygon points="2002.9,1250.3 2001.7,1256.5 1994.5,1257.2 1990.0,1253.0 1989.8,1247.5 1994.8,1244.9 2000.3,1245.7" fill="#2f6d2f"/>
<polygon points="1941.1,1256.7 1939.6,1259.7 1935.5,1262.1 1930.8,1259.3 1931.6,1254.4 1935.8,1252.5 1939.1,1254.2" fill="#23522a"/>
<polygon points="1983.1,1014.7 1980.8,1017.8 1977.4,1017.5 1974.1,1016.5 1974.9,1013.4 1977.1,1010.9 1981.7,1010.7" fill="#23522a"/>
<polygon points="1997.4,1024.9 1997.5,1030.5 1991.1,1030.6 1984.7,1028.2 1986.1,1022.1 1991.5,1020.6 1998.4,1018.3" fill="#2a622c"/>
<polygon points="1935.9,1298.2 1936.2,1305.2 1927.8,1306.9 1921.9,1301.7 1923.7,1295.5 1928.4,1291.8 1936.5,1290.8" fill="#1d4320"/>
<polygon points="1996.2,1056.5 1994.9,1060.5 1990.4,1060.1 1986.3,1058.6 1987.7,1054.9 1990.2,1052.1 1995.4,1051.8" fill="#23522a"/>
<polygon points="1907.8,1315.1 1905.8,1317.1 1903.2,1319.0 1901.8,1316.1 1900.6,1313.6 1903.4,1312.3 1906.9,1312.0" fill="#1a3d1e"/>
<polygon points="1945.0,1193.3 1942.2,1197.6 1936.4,1201.6 1932.7,1195.8 1931.4,1190.2 1937.0,1187.6 1941.8,1189.6" fill="#2f6d2f"/>
<polygon points="2003.7,1000.2 2002.9,1004.3 1997.9,1006.0 1994.9,1002.2 1993.1,997.5 1998.0,995.0 2003.0,996.2" fill="#3a8236"/>
<polygon points="1898.4,1271.4 1897.5,1276.8 1891.1,1278.0 1886.7,1274.0 1885.4,1268.2 1891.1,1265.0 1897.4,1266.1" fill="#2f6d2f"/>
<path d="M1879.6,1307.4 L1888.3,1360.0" stroke="#5a3a30" stroke-width="1.2" fill="none"/>
<polygon points="2000.8,1070.4 2001.0,1075.9 1995.1,1077.4 1990.1,1077.3 1982.8,1076.8 1980.5,1070.4 1985.9,1066.1 1989.1,1060.8 1996.3,1060.3 2000.5,1065.3" fill="#f1f4ec"/>
<polygon points="1992.0,1061.7 1991.3,1064.4 1988.8,1066.2 1985.1,1067.5 1982.1,1065.1 1982.1,1061.7 1982.1,1058.4 1985.4,1056.8 1989.2,1056.0 1991.8,1058.7" fill="#f1f4ec"/>
<polygon points="2004.7,1081.3 2001.9,1084.5 1998.8,1086.4 1995.4,1085.6 1992.1,1084.5 1989.1,1081.3 1991.9,1078.0 1995.0,1076.0 1998.6,1076.8 2002.0,1078.0" fill="#f1f4ec"/>
<polygon points="1998.9,1300.9 1994.5,1306.4 1989.3,1309.9 1982.8,1310.0 1978.9,1305.6 1974.4,1300.9 1978.6,1296.0 1982.9,1292.2 1988.9,1293.1 1996.2,1294.3" fill="#f1f4ec"/>
<polygon points="2002.7,1313.9 2001.1,1318.1 1998.0,1322.8 1992.1,1321.5 1985.9,1319.7 1984.0,1313.9 1985.4,1307.8 1992.1,1306.5 1998.4,1304.0 2003.5,1308.2" fill="#f1f4ec"/>
<polygon points="1983.1,1290.0 1984.0,1293.6 1980.5,1295.5 1976.9,1294.5 1972.4,1294.0 1973.2,1290.0 1973.5,1286.7 1976.4,1284.3 1980.7,1283.8 1983.9,1286.4" fill="#f1f4ec"/>
<polygon points="1978.7,1340.0 1976.6,1345.2 1972.7,1351.1 1965.3,1349.4 1957.6,1347.3 1955.2,1340.0 1957.0,1332.3 1965.4,1330.8 1973.2,1327.6 1979.5,1332.9" fill="#f1f4ec"/>
<polygon points="2001.5,1348.7 1995.8,1355.0 1989.4,1357.8 1982.1,1359.7 1978.4,1353.7 1971.2,1348.7 1974.7,1341.2 1983.2,1340.6 1989.3,1339.9 1994.8,1343.0" fill="#f1f4ec"/>
<polygon points="2007.8,1331.3 2007.6,1336.8 2001.9,1338.9 1996.5,1338.6 1991.9,1336.0 1992.0,1331.3 1991.2,1326.1 1995.9,1322.4 2001.6,1324.5 2006.5,1326.5" fill="#f1f4ec"/>
<polygon points="1967.7,1353.0 1967.1,1357.7 1962.2,1359.0 1957.4,1360.3 1955.1,1356.3 1951.5,1353.0 1954.7,1349.6 1957.8,1347.0 1962.2,1347.0 1964.9,1349.9" fill="#f1f4ec"/>
</g>
<polygon points="104,536 107.5,536 109,642 105,642" fill="#2c2a26"/>
<polygon points="108.5,640 116.5,640 117,690 108.5,690" fill="#1b1b1b"/>
<circle cx="106.5" cy="643" r="2.6" fill="#9a9a98"/>
<polygon points="100,686.5 150,681.5 164,702 166,712 662,638 662,646.5 520,671 380,694.5 164,728.8 100,690.5" fill="#1b1b1b"/>
<polygon points="119,691.5 151,688 161,716 160,719.5" fill="#7d7d7d"/>
<polygon points="170,722.5 322,705 322,707.5 170,725.5" fill="#444"/>
<polygon points="405,683 441,677.5 441,685 410,691.5" fill="#0e0e0e"/>
<polygon points="492,668 524,662.5 524,670 497,676.5" fill="#0e0e0e"/>
<polygon points="575,653 603,647.5 603,655 580,661.5" fill="#0e0e0e"/>
<polygon points="636,641 656,635.5 656,643 641,649.5" fill="#0e0e0e"/>
<polygon points="91.3,479 98.5,480 164.6,703 166,719.4 160.5,713" fill="#6e6a58"/>
<polygon points="91.3,479 94,479.3 162,708 160.5,713" fill="#4c4a40"/>
<polygon points="164.6,703 662.4,634 662.4,642.6 166,719.6" fill="url(#frmt)"/>
<polygon points="164.6,703 662.4,634 662.4,642.6 166,719.6" fill="url(#frmx)"/>
<polygon points="97.2,480.6 557.2,513.7 663.7,633.8 163.7,703.2" fill="url(#frm)"/>
<polygon points="97.2,480.6 235.5,490.6 326.9,680.6 163.7,703.2" fill="#f6f1dc" opacity="0.8"/>
<polygon points="100.6,482.5 232.0,491.8 318.3,673.1 164.3,693.0" fill="#f3eede"/>
<path d="M106.2,483.6 L133.0,485.5 L137.3,487.5 L141.9,500.8 L138.8,502.5 L111.6,501.0 L107.1,498.8 L102.9,485.2ZM141.6,486.1 L166.7,487.8 L170.8,489.8 L175.9,502.7 L173.1,504.3 L147.6,502.9 L143.3,500.8 L138.6,487.6ZM174.7,488.4 L198.3,490.0 L202.3,492.0 L207.7,504.4 L205.2,506.1 L181.3,504.8 L177.1,502.7 L172.0,489.9ZM205.9,490.6 L228.0,492.1 L231.8,494.0 L237.6,506.1 L235.3,507.7 L212.9,506.5 L208.9,504.5 L203.4,492.1ZM112.0,502.2 L139.2,503.6 L143.6,505.7 L148.5,519.6 L145.4,521.5 L117.6,520.4 L113.0,518.2 L108.6,503.9ZM148.0,504.1 L173.5,505.4 L177.8,507.5 L183.1,520.9 L180.3,522.7 L154.3,521.8 L149.9,519.6 L145.0,505.8ZM181.7,505.9 L205.6,507.1 L209.7,509.1 L215.4,522.2 L212.9,523.9 L188.6,523.0 L184.3,521.0 L179.0,507.5ZM213.4,507.5 L235.8,508.7 L239.7,510.6 L245.7,523.3 L243.5,525.0 L220.7,524.2 L216.6,522.2 L210.9,509.2ZM118.0,521.7 L145.8,522.6 L150.3,524.8 L155.4,539.4 L152.3,541.4 L124.0,540.9 L119.2,538.7 L114.6,523.6ZM154.8,523.0 L180.7,523.9 L185.0,526.0 L190.6,540.1 L187.8,542.1 L161.4,541.6 L156.8,539.4 L151.7,524.8ZM189.1,524.2 L213.4,525.0 L217.5,527.0 L223.5,540.7 L221.0,542.6 L196.3,542.2 L191.9,540.1 L186.3,526.0ZM221.2,525.3 L244.0,526.1 L248.0,528.1 L254.3,541.3 L252.0,543.2 L228.9,542.8 L224.7,540.8 L218.7,527.1ZM124.4,542.2 L152.7,542.7 L157.4,544.9 L162.7,560.2 L159.6,562.5 L130.7,562.5 L125.8,560.3 L120.9,544.3ZM161.9,542.8 L188.3,543.3 L192.7,545.4 L198.6,560.2 L195.7,562.4 L168.9,562.4 L164.2,560.2 L158.8,544.9ZM196.8,543.4 L221.5,543.8 L225.7,545.8 L232.0,560.2 L229.4,562.3 L204.4,562.3 L199.9,560.2 L194.0,545.4ZM229.4,543.9 L252.6,544.3 L256.6,546.3 L263.2,560.2 L261.0,562.2 L237.5,562.3 L233.2,560.2 L226.9,545.9ZM131.1,563.9 L160.0,563.8 L164.8,566.0 L170.4,582.2 L167.2,584.6 L137.8,585.4 L132.7,583.0 L127.6,566.2ZM169.3,563.8 L196.2,563.6 L200.8,565.8 L206.9,581.4 L204.1,583.8 L176.7,584.4 L171.9,582.2 L166.2,566.0ZM204.9,563.6 L230.0,563.5 L234.3,565.6 L240.9,580.7 L238.3,582.9 L212.9,583.5 L208.3,581.4 L202.1,565.8ZM238.1,563.5 L261.5,563.4 L265.7,565.4 L272.6,580.0 L270.3,582.2 L246.6,582.7 L242.2,580.6 L235.6,565.6ZM138.2,586.8 L167.7,586.0 L172.6,588.3 L178.6,605.4 L175.3,608.1 L145.2,609.5 L140.1,607.1 L134.7,589.4ZM177.2,585.8 L204.6,585.1 L209.2,587.3 L215.7,603.7 L212.9,606.3 L185.0,607.6 L180.0,605.3 L174.0,588.3ZM213.4,584.9 L238.9,584.2 L243.4,586.3 L250.3,602.2 L247.7,604.6 L221.8,605.9 L217.1,603.7 L210.6,587.2ZM247.1,584.0 L270.9,583.4 L275.2,585.4 L282.5,600.7 L280.2,603.1 L256.1,604.3 L251.5,602.1 L244.6,586.3ZM145.7,611.0 L175.8,609.5 L180.8,611.8 L187.2,629.9 L183.9,632.8 L153.2,635.1 L147.9,632.7 L142.1,613.8ZM185.5,609.1 L213.4,607.7 L218.2,609.9 L225.0,627.3 L222.1,630.1 L193.7,632.1 L188.7,629.8 L182.3,611.8ZM222.4,607.3 L248.3,606.0 L252.9,608.1 L260.1,624.9 L257.6,627.5 L231.2,629.4 L226.4,627.2 L219.5,609.9ZM256.6,605.6 L280.8,604.4 L285.2,606.5 L292.8,622.6 L290.6,625.1 L266.1,626.9 L261.4,624.8 L254.1,608.1ZM153.7,636.7 L184.4,634.4 L189.5,636.7 L196.2,655.9 L192.9,659.1 L161.6,662.2 L156.1,659.8 L150.0,639.8ZM194.3,633.7 L222.7,631.6 L227.6,633.8 L234.8,652.2 L231.9,655.2 L203.0,658.1 L197.8,655.8 L191.1,636.6ZM231.8,630.9 L258.2,629.0 L262.9,631.1 L270.5,648.8 L268.0,651.7 L241.2,654.3 L236.3,652.1 L229.0,633.7ZM266.7,628.3 L291.2,626.5 L295.7,628.6 L303.7,645.6 L301.5,648.3 L276.6,650.8 L271.9,648.6 L264.2,631.0ZM162.1,663.9 L193.5,660.7 L198.8,663.1 L205.9,683.4 L202.6,686.9 L170.5,691.0 L164.9,688.6 L158.4,667.3ZM203.6,659.7 L232.5,656.8 L237.6,659.1 L245.2,678.5 L242.3,681.9 L212.8,685.6 L207.5,683.3 L200.3,663.0ZM241.8,655.9 L268.7,653.2 L273.4,655.4 L281.5,674.0 L279.0,677.2 L251.8,680.6 L246.7,678.4 L239.0,658.9ZM277.3,652.3 L302.2,649.8 L306.7,651.9 L315.2,669.8 L313.0,672.8 L287.7,676.0 L282.9,673.8 L274.8,655.2Z" fill="url(#pc0)"/>
<path d="M137.3,487.7 L141.9,500.8 L138.8,502.5 L115.5,501.2 L127.0,494.2ZM170.9,490.0 L175.9,502.7 L173.1,504.3 L151.3,503.1 L161.5,496.3ZM202.3,492.1 L207.7,504.4 L205.2,506.1 L184.7,505.0 L194.0,498.3ZM231.9,494.1 L237.6,506.1 L235.3,507.7 L216.1,506.7 L224.4,500.1ZM143.7,505.9 L148.5,519.6 L145.4,521.5 L121.7,520.6 L133.2,512.9ZM177.8,507.6 L183.1,520.9 L180.3,522.7 L158.1,521.9 L168.4,514.5ZM209.8,509.3 L215.4,522.2 L212.9,523.9 L192.1,523.2 L201.4,515.9ZM239.8,510.8 L245.7,523.3 L243.5,525.0 L224.0,524.3 L232.3,517.3ZM150.4,525.0 L155.4,539.4 L152.3,541.4 L128.1,541.0 L139.8,532.6ZM185.1,526.1 L190.6,540.1 L187.8,542.1 L165.2,541.7 L175.7,533.5ZM217.6,527.2 L223.5,540.7 L221.0,542.6 L199.9,542.3 L209.2,534.4ZM248.1,528.2 L254.3,541.3 L252.0,543.2 L232.2,542.8 L240.5,535.2ZM157.4,545.1 L162.7,560.2 L159.6,562.5 L134.9,562.5 L146.7,553.4ZM192.8,545.6 L198.6,560.2 L195.7,562.4 L172.7,562.4 L183.3,553.6ZM225.8,546.0 L232.0,560.2 L229.4,562.3 L208.0,562.3 L217.3,553.8ZM256.7,546.5 L263.2,560.2 L261.0,562.2 L240.9,562.3 L249.2,554.0ZM164.8,566.2 L170.4,582.2 L167.2,584.6 L142.0,585.3 L154.0,575.3ZM200.8,566.0 L206.9,581.4 L204.1,583.8 L180.6,584.3 L191.3,574.7ZM234.4,565.8 L240.9,580.7 L238.3,582.9 L216.5,583.5 L225.9,574.2ZM265.8,565.6 L272.6,580.0 L270.3,582.2 L250.0,582.6 L258.3,573.7ZM172.6,588.5 L178.6,605.4 L175.3,608.1 L149.6,609.3 L161.7,598.4ZM209.3,587.5 L215.7,603.7 L212.9,606.3 L189.0,607.4 L199.7,597.0ZM243.4,586.5 L250.3,602.2 L247.7,604.6 L225.5,605.7 L234.9,595.7ZM275.3,585.6 L282.5,600.7 L280.2,603.1 L259.5,604.1 L267.8,594.4ZM180.9,612.1 L187.2,629.9 L183.9,632.8 L157.6,634.7 L169.9,622.8ZM218.2,610.1 L225.0,627.3 L222.1,630.1 L197.8,631.8 L208.6,620.5ZM252.9,608.4 L260.1,624.9 L257.6,627.5 L235.0,629.2 L244.5,618.3ZM285.3,606.7 L292.8,622.6 L290.6,625.1 L269.6,626.7 L277.8,616.2ZM189.6,637.0 L196.2,655.9 L192.9,659.1 L166.1,661.7 L178.5,648.7ZM227.7,634.1 L234.8,652.2 L231.9,655.2 L207.2,657.7 L218.0,645.3ZM263.0,631.3 L270.5,648.8 L268.0,651.7 L245.1,653.9 L254.5,642.1ZM295.8,628.8 L303.7,645.6 L301.5,648.3 L280.2,650.5 L288.4,639.1ZM198.9,663.4 L205.9,683.4 L202.6,686.9 L175.2,690.5 L187.7,676.2ZM237.7,659.3 L245.2,678.5 L242.3,681.9 L217.1,685.1 L227.9,671.6ZM273.5,655.6 L281.5,674.0 L279.0,677.2 L255.7,680.1 L265.1,667.3ZM306.8,652.2 L315.2,669.8 L313.0,672.8 L291.4,675.6 L299.5,663.3Z" fill="#4644a8" opacity="0.35"/>
<path d="M111.1,483.9L176.4,690.3M119.8,484.5L186.8,689.0M128.3,485.1L197.0,687.7M146.2,486.4L218.2,684.9M154.3,487.0L227.8,683.7M162.2,487.5L237.1,682.5M179.1,488.7L256.8,680.0M186.6,489.2L265.6,678.9M194.1,489.7L274.2,677.8M209.9,490.8L292.4,675.5M217.1,491.3L300.5,674.4M224.1,491.8L308.5,673.4" stroke="#f4efe2" stroke-width="0.9" fill="none" opacity="0.7"/>
<path d="M103.7,487.6L232.9,496.1M105.0,491.9L234.7,500.0M106.3,496.3L236.5,503.9M109.4,506.4L240.8,512.9M110.8,511.0L242.7,516.9M112.2,515.6L244.7,521.0M115.4,526.3L249.1,530.4M116.9,531.1L251.1,534.6M118.4,535.9L253.1,538.9M121.8,547.2L257.8,548.8M123.3,552.2L259.9,553.2M124.9,557.4L262.0,557.7M128.5,569.2L266.9,568.0M130.1,574.5L269.1,572.6M131.8,580.0L271.3,577.3M135.6,592.5L276.5,588.1M137.3,598.2L278.8,593.0M139.1,603.9L281.1,598.0M143.1,617.1L286.5,609.3M145.0,623.1L289.0,614.5M146.8,629.2L291.4,619.6M151.1,643.3L297.1,631.6M153.0,649.6L299.7,637.0M155.0,656.1L302.2,642.5M159.5,671.0L308.2,655.1M161.6,677.8L310.9,660.8M163.7,684.7L313.7,666.5" stroke="#f4efe2" stroke-width="0.72" fill="none" opacity="0.5"/>
<polygon points="241.1,492.4 340.4,499.4 437.8,657.7 328.5,671.8" fill="#cfcfe2"/>
<path d="M245.5,493.3 L265.7,494.7 L269.3,496.6 L275.6,508.6 L273.7,510.2 L253.2,509.1 L249.4,507.1 L243.4,494.8ZM271.7,495.2 L290.9,496.5 L294.4,498.3 L300.9,510.0 L299.2,511.5 L279.8,510.5 L276.1,508.6 L269.9,496.6ZM296.6,496.9 L314.7,498.2 L318.2,499.9 L324.8,511.3 L323.3,512.8 L305.0,511.8 L301.4,510.0 L294.9,498.3ZM320.2,498.5 L337.4,499.7 L340.7,501.4 L347.5,512.6 L346.1,514.0 L328.8,513.1 L325.3,511.3 L318.6,499.9ZM253.5,509.6 L274.0,510.7 L277.7,512.6 L284.2,525.1 L282.3,526.8 L261.6,526.1 L257.7,524.1 L251.4,511.2ZM280.1,511.0 L299.5,512.1 L303.1,513.9 L309.8,526.1 L308.1,527.7 L288.5,527.0 L284.8,525.1 L278.2,512.6ZM305.3,512.4 L323.6,513.3 L327.1,515.1 L334.0,527.0 L332.5,528.6 L314.0,527.9 L310.3,526.1 L303.6,513.9ZM329.1,513.6 L346.4,514.6 L349.8,516.3 L356.9,527.9 L355.5,529.4 L338.0,528.8 L334.5,527.0 L327.5,515.1ZM261.9,526.6 L282.6,527.4 L286.4,529.3 L293.3,542.4 L291.4,544.2 L270.4,543.8 L266.4,541.8 L259.8,528.4ZM288.8,527.6 L308.4,528.3 L312.1,530.1 L319.1,542.9 L317.4,544.6 L297.6,544.3 L293.8,542.4 L287.0,529.3ZM314.3,528.5 L332.8,529.2 L336.3,531.0 L343.6,543.3 L342.0,545.1 L323.4,544.7 L319.6,542.9 L312.6,530.2ZM338.3,529.4 L355.9,530.0 L359.3,531.7 L366.7,543.8 L365.3,545.5 L347.6,545.2 L344.0,543.3 L336.8,531.0ZM270.7,544.4 L291.7,544.8 L295.6,546.7 L302.7,560.4 L300.8,562.4 L279.5,562.4 L275.5,560.4 L268.6,546.3ZM298.0,544.9 L317.8,545.2 L321.5,547.1 L328.9,560.4 L327.2,562.3 L307.2,562.4 L303.2,560.4 L296.1,546.7ZM323.7,545.3 L342.4,545.6 L346.0,547.5 L353.5,560.4 L352.0,562.2 L333.2,562.3 L329.4,560.4 L322.0,547.1ZM348.0,545.7 L365.7,546.0 L369.2,547.8 L376.9,560.3 L375.5,562.2 L357.7,562.2 L354.0,560.4 L346.5,547.5ZM279.9,563.1 L301.1,563.0 L305.1,565.0 L312.6,579.3 L310.7,581.4 L289.1,581.9 L285.0,579.9 L277.8,565.1ZM307.5,563.0 L327.5,562.9 L331.3,564.8 L339.0,578.7 L337.4,580.8 L317.1,581.3 L313.1,579.3 L305.6,565.0ZM333.5,562.9 L352.4,562.8 L356.1,564.7 L364.0,578.1 L362.5,580.1 L343.4,580.6 L339.5,578.7 L331.8,564.8ZM358.0,562.8 L375.9,562.7 L379.4,564.5 L387.5,577.6 L386.2,579.6 L368.2,580.0 L364.4,578.1 L356.5,564.7ZM289.5,582.6 L311.0,582.1 L315.1,584.1 L322.9,599.1 L321.0,601.4 L299.2,602.4 L295.0,600.3 L287.4,584.8ZM317.5,581.9 L337.7,581.4 L341.6,583.3 L349.7,597.9 L348.0,600.1 L327.5,601.1 L323.4,599.0 L315.6,584.1ZM343.8,581.3 L362.8,580.8 L366.6,582.7 L374.8,596.7 L373.4,598.9 L354.1,599.8 L350.2,597.8 L342.1,583.3ZM368.5,580.6 L386.5,580.2 L390.2,582.0 L398.6,595.7 L397.3,597.7 L379.1,598.6 L375.3,596.7 L367.1,582.6ZM299.6,603.1 L321.4,602.1 L325.5,604.1 L333.7,619.8 L331.9,622.3 L309.8,623.9 L305.5,621.8 L297.5,605.5ZM327.9,601.7 L348.4,600.8 L352.4,602.7 L360.8,617.9 L359.2,620.3 L338.5,621.8 L334.3,619.8 L326.1,604.1ZM354.5,600.5 L373.8,599.5 L377.6,601.4 L386.2,616.2 L384.8,618.5 L365.3,619.9 L361.3,617.9 L352.9,602.7ZM379.5,599.2 L397.6,598.4 L401.4,600.2 L410.1,614.5 L408.9,616.7 L390.6,618.0 L386.7,616.1 L378.1,601.4ZM310.2,624.6 L332.3,623.0 L336.5,625.1 L345.1,641.6 L343.3,644.3 L321.0,646.5 L316.5,644.3 L308.1,627.2ZM338.9,622.5 L359.6,621.0 L363.6,623.0 L372.5,639.0 L370.9,641.5 L350.0,643.6 L345.7,641.5 L337.1,625.0ZM365.7,620.6 L385.2,619.2 L389.1,621.1 L398.1,636.5 L396.7,639.0 L377.1,640.9 L373.0,638.9 L364.1,623.0ZM391.0,618.7 L409.3,617.4 L413.0,619.3 L422.2,634.2 L421.0,636.6 L402.6,638.4 L398.6,636.5 L389.6,621.0ZM321.3,647.3 L343.7,645.0 L348.0,647.1 L357.1,664.5 L355.3,667.4 L332.7,670.3 L328.1,668.1 L319.3,650.1ZM350.4,644.4 L371.3,642.3 L375.4,644.3 L384.7,661.0 L383.2,663.8 L362.0,666.5 L357.7,664.4 L348.6,647.1ZM377.5,641.7 L397.1,639.7 L401.1,641.7 L410.6,657.8 L409.2,660.5 L389.5,663.0 L385.3,661.0 L376.0,644.3ZM403.0,639.1 L421.4,637.3 L425.3,639.2 L434.9,654.8 L433.7,657.4 L415.1,659.7 L411.1,657.8 L401.6,641.6Z" fill="url(#pc1)"/>
<path d="M269.4,496.7 L275.6,508.6 L273.7,510.2 L256.2,509.2 L263.1,502.7ZM294.5,498.4 L300.9,510.0 L299.2,511.5 L282.6,510.6 L288.8,504.3ZM318.3,500.1 L324.8,511.3 L323.3,512.8 L307.6,512.0 L313.2,505.8ZM340.8,501.6 L347.5,512.6 L346.1,514.0 L331.3,513.2 L336.2,507.2ZM277.8,512.7 L284.2,525.1 L282.3,526.8 L264.6,526.2 L271.5,519.2ZM303.2,514.0 L309.8,526.1 L308.1,527.7 L291.3,527.1 L297.5,520.3ZM327.2,515.3 L334.0,527.0 L332.5,528.6 L316.6,528.0 L322.1,521.4ZM349.9,516.4 L356.9,527.9 L355.5,529.4 L340.5,528.9 L345.4,522.4ZM286.5,529.5 L293.3,542.4 L291.4,544.2 L273.4,543.9 L280.3,536.4ZM312.2,530.3 L319.1,542.9 L317.4,544.6 L300.5,544.3 L306.6,537.0ZM336.4,531.1 L343.6,543.3 L342.0,545.1 L326.0,544.8 L331.5,537.7ZM359.4,531.9 L366.7,543.8 L365.3,545.5 L350.2,545.2 L355.0,538.3ZM295.6,546.9 L302.7,560.4 L300.8,562.4 L282.6,562.4 L289.4,554.3ZM321.6,547.3 L328.9,560.4 L327.2,562.3 L310.0,562.3 L316.1,554.5ZM346.1,547.6 L353.5,560.4 L352.0,562.2 L335.9,562.3 L341.2,554.6ZM369.3,548.0 L376.9,560.3 L375.5,562.2 L360.2,562.2 L365.0,554.8ZM305.2,565.2 L312.6,579.3 L310.7,581.4 L292.2,581.9 L299.0,573.1ZM331.4,565.0 L339.0,578.7 L337.4,580.8 L320.0,581.2 L326.0,572.7ZM356.2,564.8 L364.0,578.1 L362.5,580.1 L346.1,580.5 L351.4,572.4ZM379.5,564.7 L387.5,577.6 L386.2,579.6 L370.8,579.9 L375.4,572.0ZM315.2,584.3 L322.9,599.1 L321.0,601.4 L302.4,602.3 L309.1,592.9ZM341.7,583.5 L349.7,597.9 L348.0,600.1 L330.5,600.9 L336.4,591.8ZM366.7,582.8 L374.8,596.7 L373.4,598.9 L356.9,599.7 L362.0,590.9ZM390.3,582.2 L398.6,595.7 L397.3,597.7 L381.7,598.5 L386.2,590.0ZM325.6,604.3 L333.7,619.8 L331.9,622.3 L313.0,623.7 L319.6,613.5ZM352.5,602.9 L360.8,617.9 L359.2,620.3 L341.5,621.6 L347.2,611.8ZM377.7,601.6 L386.2,616.2 L384.8,618.5 L368.1,619.7 L373.2,610.2ZM401.5,600.4 L410.1,614.5 L408.9,616.7 L393.2,617.9 L397.5,608.7ZM336.6,625.3 L345.1,641.6 L343.3,644.3 L324.2,646.2 L330.7,635.2ZM363.7,623.2 L372.5,639.0 L370.9,641.5 L353.0,643.3 L358.6,632.8ZM389.2,621.3 L398.1,636.5 L396.7,639.0 L379.9,640.6 L384.8,630.5ZM413.2,619.5 L422.2,634.2 L421.0,636.6 L405.2,638.1 L409.4,628.4ZM348.1,647.4 L357.1,664.5 L355.3,667.4 L336.0,669.9 L342.4,658.1ZM375.6,644.5 L384.7,661.0 L383.2,663.8 L365.1,666.1 L370.6,654.8ZM401.3,641.9 L410.6,657.8 L409.2,660.5 L392.3,662.7 L397.0,651.8ZM425.4,639.4 L434.9,654.8 L433.7,657.4 L417.8,659.4 L421.8,648.9Z" fill="#2828a6" opacity="0.5"/>
<path d="M249.2,493.6L336.8,669.8M255.7,494.0L344.2,668.8M262.1,494.5L351.3,667.9M275.2,495.4L365.9,666.0M281.4,495.8L372.7,665.2M287.5,496.3L379.5,664.3M299.9,497.1L393.1,662.6M305.8,497.5L399.5,661.7M311.5,497.9L405.8,660.9M323.3,498.8L418.5,659.3M328.9,499.1L424.5,658.5M334.3,499.5L430.4,657.8" stroke="#d8d8ee" stroke-width="0.8" fill="none" opacity="0.42"/>
<path d="M244.4,497.0L341.9,503.4M246.4,500.9L344.1,507.0M248.3,504.9L346.3,510.6M252.5,513.5L351.1,518.3M254.5,517.6L353.3,522.0M256.6,521.8L355.6,525.8M261.0,530.8L360.6,533.9M263.1,535.1L363.0,537.7M265.2,539.4L365.3,541.6M269.8,548.8L370.5,550.0M272.0,553.3L373.0,554.0M274.2,557.9L375.5,558.1M279.0,567.7L380.9,566.9M281.3,572.4L383.4,571.0M283.7,577.2L386.0,575.2M288.7,587.6L391.6,584.4M291.2,592.5L394.3,588.8M293.6,597.5L397.0,593.2M298.9,608.4L402.9,602.8M301.5,613.6L405.7,607.3M304.0,618.8L408.5,611.9M309.6,630.3L414.7,621.9M312.3,635.7L417.6,626.7M315.0,641.2L420.5,631.5M320.9,653.3L427.0,641.9M323.7,659.0L430.0,646.9M326.5,664.8L433.1,651.9" stroke="#d8d8ee" stroke-width="0.64" fill="none" opacity="0.28"/>
<path d="M341.2,500.0L437.8,656.8" stroke="#ffffff" stroke-width="1.3" opacity="0.9"/>
<polygon points="347.5,499.9 426.9,505.5 528.6,646.0 445.4,656.7" fill="#9494b6"/>
<path d="M351.1,500.7 L367.1,501.8 L370.3,503.5 L377.3,514.2 L376.1,515.7 L360.0,514.8 L356.7,513.1 L349.8,502.1ZM372.0,502.2 L387.2,503.2 L390.3,504.8 L397.4,515.3 L396.3,516.7 L381.0,515.9 L377.8,514.3 L370.7,503.5ZM391.8,503.5 L406.3,504.6 L409.3,506.1 L416.5,516.4 L415.5,517.8 L400.9,517.0 L397.8,515.4 L390.7,504.9ZM410.7,504.9 L424.5,505.8 L427.5,507.4 L434.7,517.4 L433.9,518.8 L419.9,518.0 L416.9,516.4 L409.7,506.1ZM360.3,515.3 L376.4,516.2 L379.7,517.8 L387.0,529.0 L385.8,530.5 L369.5,529.9 L366.1,528.2 L359.0,516.8ZM381.3,516.4 L396.6,517.2 L399.8,518.9 L407.2,529.8 L406.1,531.3 L390.7,530.7 L387.4,529.0 L380.1,517.8ZM401.3,517.5 L415.9,518.2 L418.9,519.8 L426.4,530.5 L425.4,532.0 L410.7,531.4 L407.6,529.8 L400.2,518.9ZM420.3,518.5 L434.2,519.2 L437.2,520.8 L444.7,531.2 L443.9,532.6 L429.9,532.1 L426.8,530.5 L419.3,519.9ZM369.8,530.5 L386.1,531.0 L389.4,532.7 L397.0,544.4 L395.8,546.0 L379.4,545.7 L376.0,544.0 L368.5,532.0ZM391.0,531.2 L406.4,531.8 L409.6,533.4 L417.3,544.7 L416.3,546.3 L400.7,546.1 L397.4,544.4 L389.8,532.7ZM411.1,531.9 L425.8,532.4 L428.9,534.1 L436.7,545.1 L435.7,546.7 L420.9,546.4 L417.7,544.8 L410.0,533.4ZM430.2,532.6 L444.2,533.1 L447.2,534.7 L455.0,545.5 L454.2,547.0 L440.2,546.7 L437.0,545.1 L429.3,534.1ZM379.8,546.3 L396.2,546.5 L399.5,548.2 L407.4,560.3 L406.2,562.1 L389.7,562.1 L386.2,560.3 L378.5,547.9ZM401.1,546.6 L416.6,546.9 L419.9,548.5 L427.9,560.3 L426.8,562.0 L411.2,562.1 L407.8,560.3 L399.9,548.2ZM421.3,546.9 L436.1,547.2 L439.2,548.8 L447.3,560.3 L446.4,561.9 L431.5,562.0 L428.2,560.3 L420.3,548.5ZM440.5,547.3 L454.6,547.5 L457.7,549.1 L465.8,560.3 L465.0,561.9 L450.9,561.9 L447.7,560.3 L439.6,548.8ZM390.1,562.7 L406.6,562.6 L410.0,564.4 L418.2,576.9 L417.1,578.8 L400.5,579.2 L396.9,577.4 L388.8,564.5ZM411.6,562.6 L427.2,562.5 L430.5,564.2 L438.8,576.5 L437.8,578.3 L422.1,578.7 L418.6,576.9 L410.4,564.4ZM431.9,562.5 L446.8,562.5 L450.0,564.1 L458.3,576.1 L457.5,577.8 L442.5,578.2 L439.2,576.5 L430.9,564.2ZM451.2,562.5 L465.3,562.4 L468.5,564.0 L476.9,575.6 L476.1,577.4 L462.0,577.7 L458.7,576.1 L450.3,564.1ZM400.9,579.8 L417.5,579.4 L421.0,581.2 L429.5,594.3 L428.4,596.3 L411.7,597.1 L408.1,595.2 L399.6,581.7ZM422.5,579.3 L438.2,578.9 L441.6,580.6 L450.2,593.3 L449.3,595.3 L433.4,596.0 L429.9,594.2 L421.4,581.1ZM442.9,578.7 L457.9,578.4 L461.1,580.0 L469.8,592.4 L469.0,594.3 L454.0,595.0 L450.6,593.3 L442.0,580.6ZM462.3,578.3 L476.5,577.9 L479.7,579.5 L488.4,591.6 L487.7,593.4 L473.5,594.1 L470.2,592.4 L461.5,580.0ZM412.1,597.7 L428.8,596.9 L432.4,598.6 L441.3,612.3 L440.2,614.5 L423.4,615.7 L419.7,613.8 L410.9,599.7ZM433.8,596.6 L449.7,595.9 L453.1,597.6 L462.1,610.9 L461.2,612.9 L445.3,614.1 L441.7,612.3 L432.8,598.6ZM454.4,595.6 L469.4,594.9 L472.7,596.6 L481.8,609.5 L481.0,611.5 L465.9,612.6 L462.5,610.8 L453.5,597.6ZM473.9,594.7 L488.1,594.0 L491.4,595.6 L500.4,608.2 L499.8,610.1 L485.5,611.2 L482.2,609.5 L473.1,596.6ZM423.8,616.3 L440.6,615.1 L444.2,616.9 L453.6,631.2 L452.6,633.5 L435.6,635.1 L431.8,633.3 L422.6,618.5ZM445.7,614.7 L461.6,613.6 L465.1,615.3 L474.5,629.2 L473.6,631.4 L457.6,632.9 L454.0,631.1 L444.7,616.9ZM466.4,613.2 L481.4,612.1 L484.8,613.8 L494.2,627.3 L493.5,629.4 L478.4,630.9 L474.9,629.1 L465.5,615.3ZM485.9,611.8 L500.2,610.7 L503.5,612.4 L512.9,625.5 L512.3,627.5 L498.0,628.9 L494.6,627.2 L485.2,613.8ZM436.0,635.8 L453.0,634.1 L456.7,635.9 L466.4,650.9 L465.4,653.3 L448.4,655.5 L444.6,653.6 L434.9,638.2ZM458.1,633.6 L474.0,632.0 L477.6,633.8 L487.4,648.2 L486.6,650.6 L470.5,652.6 L466.8,650.8 L457.1,635.9ZM478.8,631.5 L493.9,630.0 L497.4,631.7 L507.2,645.8 L506.5,648.0 L491.4,650.0 L487.8,648.2 L478.0,633.7ZM498.5,629.6 L512.8,628.1 L516.1,629.8 L525.9,643.4 L525.4,645.6 L511.0,647.5 L507.6,645.7 L497.7,631.7Z" fill="url(#pc2)"/>
<path d="M370.4,503.6 L377.3,514.2 L376.1,515.7 L362.3,514.9 L366.5,509.0ZM390.4,505.0 L397.4,515.3 L396.3,516.7 L383.2,516.0 L386.9,510.3ZM409.4,506.3 L416.5,516.4 L415.5,517.8 L403.0,517.1 L406.4,511.5ZM427.6,507.5 L434.7,517.4 L433.9,518.8 L421.9,518.1 L424.9,512.6ZM379.8,518.0 L387.0,529.0 L385.8,530.5 L371.8,530.0 L376.0,523.7ZM399.9,519.0 L407.2,529.8 L406.1,531.3 L392.9,530.8 L396.5,524.7ZM419.0,520.0 L426.4,530.5 L425.4,532.0 L412.9,531.5 L416.1,525.5ZM437.3,520.9 L444.7,531.2 L443.9,532.6 L431.9,532.2 L434.7,526.3ZM389.5,532.9 L397.0,544.4 L395.8,546.0 L381.8,545.7 L385.8,539.0ZM409.7,533.6 L417.3,544.7 L416.3,546.3 L402.9,546.1 L406.5,539.6ZM429.0,534.2 L436.7,545.1 L435.7,546.7 L423.1,546.5 L426.2,540.1ZM447.3,534.8 L455.0,545.5 L454.2,547.0 L442.2,546.8 L444.9,540.6ZM399.6,548.4 L407.4,560.3 L406.2,562.1 L392.1,562.1 L396.0,555.0ZM420.0,548.7 L427.9,560.3 L426.8,562.0 L413.4,562.0 L416.9,555.1ZM439.3,549.0 L447.3,560.3 L446.4,561.9 L433.7,562.0 L436.6,555.2ZM457.8,549.2 L465.8,560.3 L465.0,561.9 L452.9,561.9 L455.4,555.3ZM410.1,564.5 L418.2,576.9 L417.1,578.8 L402.9,579.2 L406.7,571.5ZM430.6,564.4 L438.8,576.5 L437.8,578.3 L424.3,578.6 L427.6,571.2ZM450.1,564.3 L458.3,576.1 L457.5,577.8 L444.7,578.1 L447.5,570.9ZM468.6,564.2 L476.9,575.6 L476.1,577.4 L464.0,577.7 L466.4,570.6ZM421.1,581.3 L429.5,594.3 L428.4,596.3 L414.1,596.9 L417.7,588.8ZM441.7,580.7 L450.2,593.3 L449.3,595.3 L435.7,595.9 L438.8,588.0ZM461.2,580.2 L469.8,592.4 L469.0,594.3 L456.2,594.9 L458.8,587.3ZM479.8,579.7 L488.4,591.6 L487.7,593.4 L475.5,594.0 L477.8,586.6ZM432.5,598.8 L441.3,612.3 L440.2,614.5 L425.8,615.5 L429.3,606.8ZM453.2,597.8 L462.1,610.9 L461.2,612.9 L447.6,613.9 L450.5,605.5ZM472.8,596.8 L481.8,609.5 L481.0,611.5 L468.1,612.4 L470.6,604.3ZM491.5,595.8 L500.4,608.2 L499.8,610.1 L487.6,611.0 L489.6,603.1ZM444.4,617.1 L453.6,631.2 L452.6,633.5 L438.1,634.9 L441.4,625.6ZM465.2,615.5 L474.5,629.2 L473.6,631.4 L459.9,632.7 L462.7,623.7ZM484.9,614.0 L494.2,627.3 L493.5,629.4 L480.6,630.7 L482.9,622.0ZM503.6,612.6 L512.9,625.5 L512.3,627.5 L500.1,628.7 L501.9,620.3ZM456.8,636.1 L466.4,650.9 L465.4,653.3 L450.9,655.2 L454.0,645.2ZM477.7,634.0 L487.4,648.2 L486.6,650.6 L472.8,652.4 L475.4,642.8ZM497.5,631.9 L507.2,645.8 L506.5,648.0 L493.5,649.7 L495.6,640.4ZM516.2,630.0 L525.9,643.4 L525.4,645.6 L513.1,647.2 L514.7,638.2Z" fill="#2626a0" opacity="0.48"/>
<path d="M354.0,500.9L451.5,655.1M359.2,501.3L457.0,654.4M364.3,501.6L462.4,653.7M374.7,502.4L473.5,652.3M379.7,502.7L478.6,651.6M384.5,503.0L483.7,651.0M394.4,503.7L494.1,649.6M399.1,504.1L499.0,649.0M403.7,504.4L503.8,648.4M413.2,505.0L513.7,647.1M417.7,505.3L518.3,646.5M422.1,505.7L522.8,646.0" stroke="#aeb0d4" stroke-width="0.7" fill="none" opacity="0.42"/>
<path d="M351.0,504.0L428.8,509.1M353.2,507.5L431.1,512.4M355.4,511.1L433.4,515.6M360.2,518.8L438.5,522.6M362.5,522.4L440.9,525.9M364.8,526.1L443.3,529.3M369.8,534.1L448.6,536.6M372.2,537.9L451.1,540.0M374.6,541.8L453.6,543.5M379.8,550.1L459.1,551.1M382.3,554.1L461.7,554.6M384.8,558.1L464.3,558.2M390.3,566.8L470.0,566.1M392.8,570.9L472.6,569.8M395.4,575.1L475.4,573.5M401.1,584.1L481.2,581.7M403.8,588.4L484.0,585.5M406.5,592.8L486.8,589.4M412.4,602.2L493.0,597.9M415.3,606.7L495.9,601.9M418.1,611.3L498.8,605.9M424.3,621.1L505.2,614.7M427.2,625.8L508.2,618.9M430.2,630.6L511.2,623.1M436.6,640.9L517.8,632.2M439.7,645.8L521.0,636.6M442.8,650.8L524.1,641.0" stroke="#aeb0d4" stroke-width="0.56" fill="none" opacity="0.28"/>
<path d="M427.6,506.0L528.5,645.2" stroke="#ffffff" stroke-width="1.3" opacity="0.9"/>
<polygon points="432.7,505.9 497.5,510.5 600.1,636.7 534.6,645.2" fill="#8888aa"/>
<path d="M435.7,506.6 L448.7,507.5 L451.5,509.0 L458.8,518.8 L458.1,520.1 L445.0,519.4 L442.1,517.8 L434.8,507.9ZM452.6,507.8 L465.0,508.7 L467.7,510.1 L475.2,519.7 L474.5,520.9 L462.0,520.3 L459.2,518.8 L451.8,509.0ZM468.7,508.9 L480.6,509.7 L483.3,511.2 L490.8,520.5 L490.2,521.8 L478.2,521.1 L475.5,519.7 L468.1,510.1ZM484.2,510.0 L495.6,510.8 L498.3,512.2 L505.7,521.4 L505.2,522.6 L493.8,522.0 L491.1,520.6 L483.6,511.2ZM445.4,519.8 L458.4,520.5 L461.3,522.0 L468.9,532.1 L468.2,533.5 L455.1,533.0 L452.1,531.5 L444.5,521.2ZM462.4,520.7 L474.8,521.4 L477.6,522.8 L485.3,532.7 L484.6,534.1 L472.1,533.6 L469.2,532.1 L461.6,522.0ZM478.6,521.6 L490.5,522.2 L493.2,523.7 L500.9,533.3 L500.4,534.7 L488.4,534.2 L485.6,532.7 L477.9,522.9ZM494.1,522.4 L505.5,523.0 L508.2,524.4 L515.9,533.9 L515.4,535.2 L504.0,534.8 L501.2,533.3 L493.5,523.7ZM455.4,533.5 L468.5,534.0 L471.4,535.5 L479.3,545.9 L478.6,547.4 L465.5,547.2 L462.5,545.6 L454.6,534.9ZM472.5,534.1 L485.0,534.5 L487.8,536.0 L495.7,546.3 L495.1,547.7 L482.6,547.5 L479.7,545.9 L471.8,535.5ZM488.7,534.7 L500.7,535.1 L503.5,536.6 L511.4,546.6 L510.9,548.0 L498.9,547.8 L496.0,546.3 L488.1,536.0ZM504.3,535.2 L515.8,535.6 L518.4,537.1 L526.4,546.8 L525.9,548.2 L514.5,548.0 L511.7,546.6 L503.8,536.6ZM465.8,547.7 L479.0,547.9 L481.9,549.4 L490.1,560.3 L489.5,561.8 L476.3,561.9 L473.2,560.3 L465.1,549.2ZM482.9,548.0 L495.5,548.2 L498.4,549.7 L506.6,560.3 L506.0,561.8 L493.4,561.8 L490.4,560.3 L482.3,549.4ZM499.3,548.2 L511.3,548.4 L514.0,549.9 L522.3,560.2 L521.8,561.7 L509.8,561.8 L506.9,560.3 L498.7,549.7ZM514.9,548.5 L526.3,548.7 L529.0,550.1 L537.3,560.2 L536.9,561.7 L525.4,561.7 L522.6,560.2 L514.4,549.9ZM476.7,562.4 L489.8,562.3 L492.8,563.9 L501.3,575.1 L500.7,576.8 L487.5,577.1 L484.4,575.5 L475.9,564.0ZM493.8,562.3 L506.4,562.3 L509.3,563.8 L517.8,574.7 L517.3,576.4 L504.7,576.7 L501.6,575.1 L493.2,563.9ZM510.2,562.2 L522.2,562.2 L525.0,563.7 L533.5,574.4 L533.1,576.0 L521.0,576.3 L518.1,574.7 L509.6,563.8ZM525.8,562.2 L537.2,562.1 L540.0,563.6 L548.5,574.1 L548.1,575.6 L536.7,575.9 L533.8,574.4 L525.3,563.7ZM487.9,577.6 L501.1,577.3 L504.1,578.9 L512.9,590.5 L512.3,592.3 L499.1,592.9 L495.9,591.3 L487.2,579.3ZM505.1,577.2 L517.6,576.9 L520.6,578.4 L529.4,589.8 L528.9,591.5 L516.3,592.1 L513.2,590.5 L504.5,578.8ZM521.4,576.8 L533.4,576.5 L536.3,578.0 L545.1,589.1 L544.7,590.7 L532.7,591.3 L529.7,589.8 L520.9,578.4ZM537.1,576.4 L548.5,576.1 L551.3,577.6 L560.1,588.4 L559.8,590.0 L548.3,590.6 L545.4,589.0 L536.6,578.0ZM499.5,593.4 L512.7,592.8 L515.8,594.4 L525.0,606.5 L524.4,608.4 L511.2,609.3 L508.0,607.7 L498.9,595.3ZM516.7,592.6 L529.3,592.0 L532.3,593.6 L541.5,605.3 L541.0,607.2 L528.4,608.1 L525.3,606.5 L516.2,594.4ZM533.1,591.8 L545.1,591.2 L548.1,592.8 L557.2,604.3 L556.8,606.0 L544.8,606.9 L541.8,605.3 L532.7,593.5ZM548.7,591.1 L560.2,590.5 L563.0,592.0 L572.2,603.2 L571.9,604.9 L560.4,605.8 L557.5,604.2 L548.4,592.7ZM511.6,609.9 L524.9,608.9 L528.0,610.5 L537.5,623.1 L537.0,625.1 L523.7,626.4 L520.5,624.7 L511.0,611.8ZM528.8,608.6 L541.5,607.7 L544.5,609.3 L554.0,621.5 L553.6,623.4 L541.0,624.7 L537.8,623.1 L528.3,610.5ZM545.2,607.4 L557.2,606.5 L560.2,608.1 L569.7,620.0 L569.4,621.9 L557.4,623.1 L554.3,621.5 L544.8,609.3ZM560.9,606.3 L572.3,605.4 L575.2,606.9 L584.6,618.6 L584.4,620.4 L573.0,621.5 L570.0,620.0 L560.5,608.1ZM524.2,627.0 L537.4,625.7 L540.6,627.3 L550.5,640.4 L550.1,642.5 L536.8,644.2 L533.5,642.5 L523.6,629.0ZM541.4,625.3 L554.0,624.0 L557.1,625.6 L567.0,638.3 L566.6,640.3 L554.0,642.0 L550.8,640.3 L541.0,627.3ZM557.8,623.6 L569.8,622.4 L572.8,624.0 L582.6,636.3 L582.4,638.3 L570.4,639.9 L567.3,638.3 L557.5,625.6ZM573.4,622.1 L584.8,620.9 L587.8,622.4 L597.5,634.5 L597.4,636.4 L586.0,637.9 L582.9,636.3 L573.1,623.9Z" fill="url(#pc3)"/>
<path d="M451.6,509.1 L458.8,518.8 L458.1,520.1 L446.9,519.5 L449.3,514.1ZM467.8,510.2 L475.2,519.7 L474.5,520.9 L463.8,520.4 L465.9,515.1ZM483.4,511.3 L490.8,520.5 L490.2,521.8 L479.9,521.2 L481.8,516.1ZM498.3,512.3 L505.7,521.4 L505.2,522.6 L495.4,522.1 L496.9,517.0ZM461.4,522.1 L468.9,532.1 L468.2,533.5 L457.0,533.1 L459.3,527.4ZM477.7,523.0 L485.3,532.7 L484.6,534.1 L473.9,533.7 L475.9,528.1ZM493.3,523.8 L500.9,533.3 L500.4,534.7 L490.1,534.3 L491.8,528.8ZM508.3,524.5 L515.9,533.9 L515.4,535.2 L505.6,534.8 L507.0,529.5ZM471.5,535.6 L479.3,545.9 L478.6,547.4 L467.4,547.2 L469.6,541.2ZM487.9,536.2 L495.7,546.3 L495.1,547.7 L484.4,547.5 L486.2,541.6ZM503.6,536.7 L511.4,546.6 L510.9,548.0 L500.6,547.8 L502.2,542.0ZM518.5,537.2 L526.4,546.8 L525.9,548.2 L516.1,548.1 L517.4,542.4ZM482.0,549.6 L490.1,560.3 L489.5,561.8 L478.2,561.9 L480.2,555.5ZM498.5,549.8 L506.6,560.3 L506.0,561.8 L495.2,561.8 L496.9,555.6ZM514.2,550.0 L522.3,560.2 L521.8,561.7 L511.5,561.8 L512.9,555.7ZM529.1,550.2 L537.3,560.2 L536.9,561.7 L527.0,561.7 L528.1,555.8ZM492.9,564.0 L501.3,575.1 L500.7,576.8 L489.4,577.0 L491.2,570.3ZM509.4,563.9 L517.8,574.7 L517.3,576.4 L506.5,576.6 L508.0,570.0ZM525.1,563.8 L533.5,574.4 L533.1,576.0 L522.8,576.2 L524.0,569.8ZM540.1,563.7 L548.5,574.1 L548.1,575.6 L538.3,575.8 L539.3,569.6ZM504.2,579.0 L512.9,590.5 L512.3,592.3 L501.0,592.8 L502.7,585.6ZM520.7,578.5 L529.4,589.8 L528.9,591.5 L518.1,592.0 L519.5,585.0ZM536.4,578.1 L545.1,589.1 L544.7,590.7 L534.4,591.2 L535.5,584.4ZM551.4,577.7 L560.1,588.4 L559.8,590.0 L550.0,590.5 L550.8,583.8ZM516.0,594.5 L525.0,606.5 L524.4,608.4 L513.1,609.2 L514.6,601.6ZM532.5,593.7 L541.5,605.3 L541.0,607.2 L530.2,607.9 L531.4,600.5ZM548.2,592.9 L557.2,604.3 L556.8,606.0 L546.5,606.8 L547.4,599.6ZM563.2,592.1 L572.2,603.2 L571.9,604.9 L562.1,605.6 L562.7,598.6ZM528.1,610.7 L537.5,623.1 L537.0,625.1 L525.6,626.2 L526.9,618.1ZM544.6,609.4 L554.0,621.5 L553.6,623.4 L542.8,624.5 L543.8,616.7ZM560.3,608.2 L569.7,620.0 L569.4,621.9 L559.1,622.9 L559.8,615.3ZM575.3,607.1 L584.6,618.6 L584.4,620.4 L574.6,621.4 L575.0,613.9ZM540.8,627.5 L550.5,640.4 L550.1,642.5 L538.7,643.9 L539.8,635.3ZM557.3,625.8 L567.0,638.3 L566.6,640.3 L555.9,641.7 L556.6,633.4ZM572.9,624.1 L582.6,636.3 L582.4,638.3 L572.1,639.6 L572.6,631.6ZM587.9,622.6 L597.5,634.5 L597.4,636.4 L587.6,637.7 L587.8,629.8Z" fill="#242498" opacity="0.45"/>
<path d="M438.0,506.8L539.2,643.9M442.2,507.1L543.5,643.3M446.4,507.4L547.7,642.8M454.8,507.9L556.3,641.7M458.8,508.2L560.4,641.1M462.8,508.5L564.4,640.6M470.9,509.1L572.6,639.6M474.7,509.3L576.5,639.1M478.5,509.6L580.3,638.6M486.3,510.1L588.1,637.6M490.0,510.4L591.7,637.1M493.6,510.7L595.4,636.7" stroke="#a0a2c8" stroke-width="0.6" fill="none" opacity="0.42"/>
<path d="M436.1,509.6L499.6,513.8M438.4,512.8L502.0,516.7M440.8,516.0L504.4,519.7M445.9,523.0L509.6,526.1M448.3,526.3L512.0,529.1M450.7,529.6L514.5,532.2M456.0,536.8L519.9,538.8M458.5,540.2L522.4,541.9M461.0,543.7L525.0,545.1M466.5,551.2L530.5,551.9M469.1,554.7L533.1,555.1M471.7,558.3L535.8,558.4M477.4,566.0L541.5,565.5M480.1,569.7L544.2,568.8M482.8,573.4L547.0,572.2M488.7,581.4L552.9,579.5M491.5,585.3L555.7,582.9M494.3,589.1L558.5,586.4M500.5,597.5L564.7,594.0M503.4,601.4L567.6,597.6M506.3,605.4L570.5,601.2M512.7,614.1L576.9,609.0M515.7,618.2L579.9,612.7M518.7,622.4L582.9,616.5M525.4,631.4L589.5,624.6M528.5,635.7L592.6,628.4M531.7,640.0L595.8,632.3" stroke="#a0a2c8" stroke-width="0.48" fill="none" opacity="0.28"/>
<path d="M498.2,511.0L599.9,636.1" stroke="#ffffff" stroke-width="1.3" opacity="0.9"/>
<polygon points="502.3,510.8 556.2,514.6 657.7,629.3 604.8,636.1" fill="#8080a2"/>
<path d="M504.8,511.4 L515.6,512.2 L518.1,513.5 L525.6,522.5 L525.2,523.7 L514.4,523.1 L511.8,521.7 L504.3,512.6ZM518.8,512.4 L529.2,513.1 L531.6,514.5 L539.1,523.2 L538.7,524.4 L528.4,523.8 L525.8,522.5 L518.4,513.6ZM532.3,513.4 L542.2,514.0 L544.6,515.3 L552.1,523.9 L551.8,525.1 L541.9,524.6 L539.4,523.2 L531.9,514.5ZM545.2,514.3 L554.7,514.9 L557.1,516.2 L564.6,524.6 L564.3,525.8 L554.8,525.3 L552.3,524.0 L544.9,515.4ZM514.7,523.5 L525.5,524.1 L528.1,525.4 L535.8,534.7 L535.4,535.9 L524.6,535.5 L522.0,534.1 L514.2,524.7ZM528.7,524.2 L539.1,524.8 L541.6,526.1 L549.3,535.2 L549.0,536.4 L538.6,536.0 L536.0,534.7 L528.3,525.5ZM542.2,525.0 L552.1,525.5 L554.6,526.8 L562.3,535.7 L562.0,536.9 L552.1,536.5 L549.6,535.2 L541.8,526.1ZM555.1,525.7 L564.7,526.2 L567.1,527.4 L574.7,536.1 L574.5,537.3 L565.0,537.0 L562.5,535.7 L554.8,526.8ZM525.0,536.0 L535.7,536.3 L538.3,537.7 L546.3,547.2 L545.9,548.6 L535.2,548.4 L532.5,547.0 L524.5,537.3ZM539.0,536.5 L549.3,536.8 L551.9,538.2 L559.8,547.5 L559.5,548.8 L549.2,548.6 L546.6,547.2 L538.6,537.7ZM552.4,536.9 L562.4,537.3 L564.8,538.6 L572.8,547.7 L572.5,549.0 L562.6,548.9 L560.1,547.5 L552.1,538.2ZM565.3,537.4 L574.9,537.7 L577.3,539.0 L585.2,548.0 L585.0,549.2 L575.5,549.1 L573.0,547.7 L565.1,538.6ZM535.5,548.8 L546.3,549.0 L548.9,550.4 L557.1,560.2 L556.8,561.6 L546.1,561.7 L543.3,560.2 L535.1,550.2ZM549.5,549.1 L559.9,549.2 L562.4,550.6 L570.6,560.2 L570.4,561.6 L560.1,561.6 L557.4,560.2 L549.2,550.4ZM563.0,549.3 L572.9,549.4 L575.4,550.8 L583.6,560.2 L583.4,561.5 L573.5,561.6 L570.9,560.2 L562.7,550.6ZM575.9,549.5 L585.4,549.6 L587.8,551.0 L596.0,560.2 L595.9,561.5 L586.4,561.5 L583.8,560.2 L575.7,550.8ZM546.4,562.1 L557.2,562.1 L559.9,563.5 L568.4,573.6 L568.1,575.1 L557.3,575.4 L554.6,573.9 L546.1,563.6ZM560.5,562.1 L570.8,562.0 L573.4,563.4 L581.8,573.3 L581.6,574.8 L571.3,575.0 L568.6,573.6 L560.1,563.5ZM573.9,562.0 L583.8,562.0 L586.3,563.3 L594.8,573.0 L594.6,574.5 L584.7,574.7 L582.1,573.3 L573.6,563.4ZM586.8,562.0 L596.2,561.9 L598.7,563.3 L607.1,572.8 L607.0,574.2 L597.6,574.4 L595.0,573.0 L586.6,563.3ZM557.7,575.9 L568.5,575.6 L571.2,577.0 L580.0,587.5 L579.7,589.1 L569.0,589.6 L566.2,588.1 L557.4,577.4ZM571.7,575.5 L582.0,575.2 L584.7,576.6 L593.4,586.9 L593.2,588.4 L583.0,588.9 L580.2,587.5 L571.5,577.0ZM585.1,575.2 L595.0,574.9 L597.6,576.3 L606.3,586.3 L606.2,587.8 L596.3,588.3 L593.7,586.9 L584.9,576.6ZM598.0,574.8 L607.4,574.6 L609.9,575.9 L618.6,585.8 L618.6,587.2 L609.1,587.7 L606.5,586.3 L597.8,576.3ZM569.4,590.1 L580.1,589.5 L582.9,591.0 L592.0,601.8 L591.8,603.5 L581.0,604.3 L578.2,602.8 L569.1,591.7ZM583.4,589.4 L593.6,588.9 L596.3,590.3 L605.4,600.9 L605.2,602.5 L595.0,603.3 L592.2,601.8 L583.1,591.0ZM596.7,588.7 L606.6,588.3 L609.2,589.6 L618.2,600.0 L618.1,601.6 L608.3,602.3 L605.6,600.9 L596.6,590.3ZM609.5,588.1 L619.0,587.7 L621.5,589.0 L630.5,599.1 L630.4,600.7 L621.1,601.4 L618.4,600.0 L609.4,589.6ZM581.5,604.8 L592.2,604.0 L595.0,605.4 L604.4,616.7 L604.2,618.4 L593.5,619.5 L590.7,618.0 L581.2,606.5ZM595.4,603.8 L605.7,603.0 L608.4,604.4 L617.7,615.4 L617.6,617.1 L607.4,618.1 L604.6,616.6 L595.2,605.4ZM608.7,602.8 L618.5,602.1 L621.2,603.4 L630.5,614.2 L630.5,615.8 L620.7,616.8 L618.0,615.4 L608.6,604.4ZM621.5,601.8 L630.9,601.2 L633.4,602.5 L642.7,613.0 L642.7,614.6 L633.4,615.5 L630.7,614.1 L621.4,603.4ZM594.0,620.0 L604.7,618.9 L607.5,620.4 L617.2,632.0 L617.1,633.9 L606.5,635.2 L603.6,633.7 L593.8,621.8ZM607.9,618.6 L618.1,617.6 L620.8,619.0 L630.5,630.4 L630.5,632.2 L620.3,633.5 L617.5,632.0 L607.8,620.4ZM621.1,617.3 L630.9,616.3 L633.6,617.7 L643.2,628.8 L643.2,630.5 L633.5,631.8 L630.8,630.3 L621.1,619.0ZM633.8,616.0 L643.2,615.1 L645.8,616.5 L655.3,627.3 L655.4,629.0 L646.2,630.2 L643.4,628.8 L633.8,617.7Z" fill="url(#pc4)"/>
<path d="M518.2,513.6 L525.6,522.5 L525.2,523.7 L515.9,523.2 L517.1,518.2ZM531.7,514.6 L539.1,523.2 L538.7,524.4 L529.9,523.9 L530.8,519.1ZM544.7,515.4 L552.1,523.9 L551.8,525.1 L543.3,524.6 L544.0,519.9ZM557.2,516.3 L564.6,524.6 L564.3,525.8 L556.1,525.3 L556.7,520.7ZM528.2,525.6 L535.8,534.7 L535.4,535.9 L526.1,535.6 L527.2,530.4ZM541.7,526.2 L549.3,535.2 L549.0,536.4 L540.1,536.1 L540.9,531.0ZM554.7,526.9 L562.3,535.7 L562.0,536.9 L553.5,536.6 L554.1,531.6ZM567.2,527.5 L574.7,536.1 L574.5,537.3 L566.4,537.0 L566.8,532.1ZM538.4,537.8 L546.3,547.2 L545.9,548.6 L536.7,548.4 L537.6,542.9ZM552.0,538.3 L559.8,547.5 L559.5,548.8 L550.7,548.6 L551.3,543.3ZM564.9,538.7 L572.8,547.7 L572.5,549.0 L564.0,548.9 L564.5,543.6ZM577.4,539.1 L585.2,548.0 L585.0,549.2 L576.9,549.1 L577.2,543.9ZM549.0,550.5 L557.1,560.2 L556.8,561.6 L547.6,561.6 L548.4,555.9ZM562.5,550.7 L570.6,560.2 L570.4,561.6 L561.6,561.6 L562.1,556.0ZM575.5,550.9 L583.6,560.2 L583.4,561.5 L574.9,561.6 L575.2,556.0ZM588.0,551.1 L596.0,560.2 L595.9,561.5 L587.7,561.5 L587.9,556.1ZM560.0,563.6 L568.4,573.6 L568.1,575.1 L558.9,575.3 L559.5,569.3ZM573.5,563.5 L581.8,573.3 L581.6,574.8 L572.8,575.0 L573.2,569.0ZM586.4,563.4 L594.8,573.0 L594.6,574.5 L586.1,574.7 L586.3,568.8ZM598.8,563.4 L607.1,572.8 L607.0,574.2 L598.9,574.4 L598.9,568.7ZM571.3,577.1 L580.0,587.5 L579.7,589.1 L570.5,589.5 L570.9,583.1ZM584.8,576.8 L593.4,586.9 L593.2,588.4 L584.4,588.8 L584.6,582.6ZM597.7,576.4 L606.3,586.3 L606.2,587.8 L597.7,588.2 L597.7,582.1ZM610.0,576.1 L618.6,585.8 L618.6,587.2 L610.5,587.6 L610.3,581.6ZM583.0,591.1 L592.0,601.8 L591.8,603.5 L582.6,604.2 L582.8,597.4ZM596.4,590.4 L605.4,600.9 L605.2,602.5 L596.5,603.2 L596.5,596.5ZM609.3,589.8 L618.2,600.0 L618.1,601.6 L609.7,602.2 L609.5,595.7ZM621.6,589.1 L630.5,599.1 L630.4,600.7 L622.4,601.3 L622.0,595.0ZM595.1,605.6 L604.4,616.7 L604.2,618.4 L595.1,619.3 L595.1,612.2ZM608.5,604.6 L617.7,615.4 L617.6,617.1 L608.9,618.0 L608.7,611.0ZM621.3,603.6 L630.5,614.2 L630.5,615.8 L622.1,616.6 L621.7,609.9ZM633.6,602.6 L642.7,613.0 L642.7,614.6 L634.7,615.4 L634.1,608.8ZM607.6,620.6 L617.2,632.0 L617.1,633.9 L608.0,635.0 L607.8,627.5ZM621.0,619.2 L630.5,630.4 L630.5,632.2 L621.8,633.3 L621.4,626.0ZM633.7,617.9 L643.2,628.8 L643.2,630.5 L634.9,631.6 L634.3,624.5ZM645.9,616.6 L655.3,627.3 L655.4,629.0 L647.5,630.0 L646.7,623.0Z" fill="#232390" opacity="0.4"/>
<path d="M506.8,511.6L608.4,635.0M510.2,511.8L611.9,634.6M513.7,512.1L615.2,634.1M520.7,512.5L622.2,633.2M524.0,512.8L625.5,632.8M527.3,513.0L628.7,632.4M534.1,513.5L635.3,631.6M537.3,513.7L638.4,631.2M540.4,513.9L641.5,630.8M546.9,514.4L647.8,630.0M550.0,514.6L650.8,629.6M553.1,514.8L653.8,629.2" stroke="#9a9cc0" stroke-width="0.55" fill="none" opacity="0.42"/>
<path d="M505.6,514.2L558.4,517.7M508.0,517.1L560.8,520.4M510.4,520.1L563.2,523.1M515.6,526.4L568.4,529.0M518.1,529.4L570.9,531.8M520.6,532.4L573.4,534.6M525.9,539.0L578.7,540.6M528.5,542.1L581.2,543.5M531.0,545.2L583.8,546.4M536.6,552.0L589.3,552.6M539.2,555.2L591.9,555.5M541.8,558.4L594.5,558.5M547.6,565.4L600.2,564.9M550.3,568.7L602.9,568.0M553.0,572.1L605.6,571.0M559.0,579.3L611.5,577.7M561.8,582.7L614.3,580.8M564.6,586.2L617.0,584.0M570.7,593.7L623.1,590.8M573.6,597.2L626.0,594.1M576.6,600.8L628.8,597.3M582.9,608.5L635.1,604.4M585.9,612.2L638.0,607.7M588.9,615.9L641.0,611.1M595.5,623.9L647.5,618.4M598.6,627.7L650.5,621.8M601.8,631.6L653.6,625.3" stroke="#9a9cc0" stroke-width="0.44" fill="none" opacity="0.28"/>
<path d="M556.9,515.1L657.5,628.7" stroke="#ffffff" stroke-width="1.3" opacity="0.9"/>
<polygon points="91.3,479 556.4,513.1 662.4,634 662.4,642.6 166,719.6 160.5,713" fill="url(#pglow)"/>
<path d="M806.4,1100.3 C806.8,1108.2 806.0,1114.1 804.5,1119.4 L811.1,1119.4 C812.7,1114.1 813.5,1108.2 813.5,1100.3 Z" fill="#161616"/>
<polygon points="800.3,1062.9 820.0,1062.9 820.0,1076.7 818.2,1077.9 818.2,1084.6 820.0,1085.7 819.6,1096.4 816.6,1102.7 803.7,1102.7 800.7,1096.4 800.3,1085.7 802.1,1084.6 802.1,1077.9 800.3,1076.7" fill="#161616"/>
<polygon points="803.7,1065.9 806.4,1065.9 806.4,1101.3 804.1,1101.3" fill="#3a3a3a" opacity="0.8"/>
<polygon points="800.3,1076.7 820.0,1076.7 820.0,1078.3 800.3,1078.3" fill="#3c3c3c"/>
<polygon points="800.3,1084.6 820.0,1084.6 820.0,1085.9 800.3,1085.9" fill="#383838"/>
<path d="M835.1,1100.3 C835.5,1108.2 834.7,1114.1 833.2,1119.4 L839.9,1119.4 C841.4,1114.1 842.2,1108.2 842.2,1100.3 Z" fill="#161616"/>
<polygon points="829.0,1062.9 848.7,1062.9 848.7,1076.7 846.9,1077.9 846.9,1084.6 848.7,1085.7 848.3,1096.4 845.4,1102.7 832.4,1102.7 829.4,1096.4 829.0,1085.7 830.8,1084.6 830.8,1077.9 829.0,1076.7" fill="#161616"/>
<polygon points="832.4,1065.9 835.1,1065.9 835.1,1101.3 832.8,1101.3" fill="#3a3a3a" opacity="0.8"/>
<polygon points="829.0,1076.7 848.7,1076.7 848.7,1078.3 829.0,1078.3" fill="#3c3c3c"/>
<polygon points="829.0,1084.6 848.7,1084.6 848.7,1085.9 829.0,1085.9" fill="#383838"/>
<rect x="951.8" y="1060" width="21.6" height="29.6" fill="#1a1a1c"/>
<rect x="953.2" y="1062" width="3" height="26" fill="#3a3a3c"/>
<polygon points="1057.0,1106.2 1068.4,1106.2 1068.4,1119.4 1057.0,1119.4" fill="#8d8d8d"/>
<polygon points="1049.1,1062.9 1078.6,1062.9 1078.6,1078.7 1076.7,1079.8 1076.7,1089.7 1079.8,1091.3 1079.8,1101.9 1076.3,1106.2 1072.7,1109.0 1055.0,1109.0 1051.5,1106.2 1048.0,1101.9 1048.0,1091.3 1051.1,1089.7 1051.1,1079.8 1049.1,1078.7" fill="#161616"/>
<polygon points="1053.5,1065.9 1057.4,1065.9 1057.4,1106.2 1053.9,1106.2" fill="#383838" opacity="0.85"/>
<polygon points="1049.1,1078.3 1078.6,1078.3 1078.6,1080.0 1049.1,1080.0" fill="#3a3a3a"/>
<polygon points="1048.0,1090.5 1079.8,1090.5 1079.8,1092.0 1048.0,1092.0" fill="#363636"/>
<path d="M792,633.8 H1103 A20,20 0 0 1 1123,653.8 V1046 A19,19 0 0 1 1104,1065 H792 A19,19 0 0 1 773,1046 L771.8,653.8 A20,20 0 0 1 792,633.8 Z" fill="url(#ivb)"/>
<path d="M792,633.8 H1103 A20,20 0 0 1 1123,653.8 V1046 A19,19 0 0 1 1104,1065 H792 A19,19 0 0 1 773,1046 L771.8,653.8 A20,20 0 0 1 792,633.8 Z" fill="none" stroke="#cfcbc5" stroke-width="1.2"/>
<path d="M792,635 H1103 A19,19 0 0 1 1122,654 V672 H773 V654 A19,19 0 0 1 792,635 Z" fill="url(#ivtop)"/>
<g mask="url(#ivm)"><rect x="790.5" y="765" width="320" height="135" fill="url(#ivshine)"/></g>
<rect x="773.6" y="930.5" width="349.4" height="134.5" rx="17" fill="url(#ivlow)"/>
<rect x="773.6" y="930.5" width="349.4" height="134.5" rx="17" fill="none" stroke="#d2cec8" stroke-width="1"/>
<rect x="779" y="946.5" width="339" height="1.6" fill="#d8d4ce" opacity="0.9"/>
<rect x="790.8" y="955" width="314.3" height="86.6" rx="9" fill="#cfccc7"/>
<rect x="792.1" y="956.3" width="311.7" height="84" rx="8" fill="url(#ivwin)"/>
<g clip-path="url(#ivwc)">
<g filter="url(#ivbl)">
<path d="M790,955 L850,955 C870,985 885,1010 890,1045 L790,1045 Z" fill="#27304a"/>
<ellipse cx="822" cy="985" rx="20" ry="22" fill="#3d4a3a"/>
<ellipse cx="1026" cy="995" rx="38" ry="22" fill="#323c58"/>
<ellipse cx="1040" cy="965" rx="40" ry="12" fill="#4a5674"/>
<ellipse cx="1085" cy="1030" rx="40" ry="14" fill="#b4bdd2"/>
<ellipse cx="940" cy="1035" rx="60" ry="12" fill="#a4aec8"/>
</g>
<g filter="url(#ivbl2)"><path d="M850,956 C880,985 900,1010 905,1042" stroke="#c3cadb" stroke-width="9" fill="none" opacity="0.8"/></g>
</g>
<rect x="866.2" y="970.1" width="164.8" height="53.5" rx="5" fill="#8b97b5" fill-opacity="0.12" stroke="#a9b3ca" stroke-width="0.7"/>
<rect x="919.3" y="987.8" width="57.6" height="17.1" fill="#e9f2ee"/>
<circle cx="1017.3" cy="997.4" r="5.6" fill="#0c0c10"/>
<circle cx="788.1" cy="650.1" r="4.1" fill="#4a4a48"/><circle cx="788.1" cy="650.1" r="2.9" fill="#b9b8b4"/><circle cx="788.1" cy="650.1" r="1.5" fill="none" stroke="#5a5a58" stroke-width="0.7"/>
<circle cx="1108.7" cy="650.9" r="4.1" fill="#4a4a48"/><circle cx="1108.7" cy="650.9" r="2.9" fill="#b9b8b4"/><circle cx="1108.7" cy="650.9" r="1.5" fill="none" stroke="#5a5a58" stroke-width="0.7"/>
<circle cx="784" cy="849.7" r="4.1" fill="#4a4a48"/><circle cx="784" cy="849.7" r="2.9" fill="#b9b8b4"/><circle cx="784" cy="849.7" r="1.5" fill="none" stroke="#5a5a58" stroke-width="0.7"/>
<circle cx="1112" cy="850.1" r="4.1" fill="#4a4a48"/><circle cx="1112" cy="850.1" r="2.9" fill="#b9b8b4"/><circle cx="1112" cy="850.1" r="1.5" fill="none" stroke="#5a5a58" stroke-width="0.7"/>
<circle cx="786" cy="1042.9" r="4.1" fill="#4a4a48"/><circle cx="786" cy="1042.9" r="2.9" fill="#b9b8b4"/><circle cx="786" cy="1042.9" r="1.5" fill="none" stroke="#5a5a58" stroke-width="0.7"/>
<circle cx="1110.1" cy="1042.3" r="4.1" fill="#4a4a48"/><circle cx="1110.1" cy="1042.3" r="2.9" fill="#b9b8b4"/><circle cx="1110.1" cy="1042.3" r="1.5" fill="none" stroke="#5a5a58" stroke-width="0.7"/>
<line x1="1140.4" y1="904" x2="1140.4" y2="976" stroke="#e6e6e8" stroke-width="0.9"/>
<line x1="1140.4" y1="911" x2="1140.4" y2="932" stroke="#d2d2d6" stroke-width="1.1"/>
<use href="#batt" x="330.0" y="1510.0"/>
<use href="#batt" x="761.3" y="1493.7"/>
<use href="#batt" x="1177.1" y="1501.8"/>
<g font-family="Liberation Sans, sans-serif" font-weight="bold">
<text transform="translate(440.36,153.65) scale(0.9786,1)" font-size="124.27" fill="#a9a6a6" stroke="#a9a6a6" stroke-width="2.5" stroke-linejoin="miter" stroke-miterlimit="3">O</text>
<text transform="translate(539.79,153.65) scale(0.8613,1)" font-size="124.27" fill="#a9a6a6" stroke="#a9a6a6" stroke-width="2.5" stroke-linejoin="miter" stroke-miterlimit="3">F</text>
<text transform="translate(612.21,153.65) scale(0.8470,1)" font-size="124.27" fill="#a9a6a6" stroke="#a9a6a6" stroke-width="2.5" stroke-linejoin="miter" stroke-miterlimit="3">F</text>
<text transform="translate(709.49,153.65) scale(0.8944,1)" font-size="124.27" fill="#a9a6a6" stroke="#a9a6a6" stroke-width="2.5" stroke-linejoin="miter" stroke-miterlimit="3">G</text>
<text transform="translate(804.75,153.65) scale(0.8544,1)" font-size="124.27" fill="#a9a6a6" stroke="#a9a6a6" stroke-width="2.5" stroke-linejoin="miter" stroke-miterlimit="3">R</text>
<text transform="translate(886.95,153.65) scale(0.8661,1)" font-size="124.27" fill="#a9a6a6" stroke="#a9a6a6" stroke-width="2.5" stroke-linejoin="miter" stroke-miterlimit="3">I</text>
<text transform="translate(926.05,153.65) scale(1.0221,1)" font-size="124.27" fill="#a9a6a6" stroke="#a9a6a6" stroke-width="2.5" stroke-linejoin="miter" stroke-miterlimit="3">D</text>
<text transform="translate(1048.03,153.65) scale(0.8999,1)" font-size="124.27" fill="#a9a6a6" stroke="#a9a6a6" stroke-width="2.5" stroke-linejoin="miter" stroke-miterlimit="3">S</text>
<text transform="translate(1121.83,153.65) scale(0.9509,1)" font-size="124.27" fill="#a9a6a6" stroke="#a9a6a6" stroke-width="2.5" stroke-linejoin="miter" stroke-miterlimit="3">Y</text>
<text transform="translate(1204.41,153.65) scale(0.8784,1)" font-size="124.27" fill="#a9a6a6" stroke="#a9a6a6" stroke-width="2.5" stroke-linejoin="miter" stroke-miterlimit="3">S</text>
<text transform="translate(1280.51,153.65) scale(0.8936,1)" font-size="124.27" fill="#a9a6a6" stroke="#a9a6a6" stroke-width="2.5" stroke-linejoin="miter" stroke-miterlimit="3">T</text>
<text transform="translate(1357.06,153.65) scale(0.8162,1)" font-size="124.27" fill="#a9a6a6" stroke="#a9a6a6" stroke-width="2.5" stroke-linejoin="miter" stroke-miterlimit="3">E</text>
<text transform="translate(1431.19,153.65) scale(1.0174,1)" font-size="124.27" fill="#a9a6a6" stroke="#a9a6a6" stroke-width="2.5" stroke-linejoin="miter" stroke-miterlimit="3">M</text>
<rect x="437.6" y="162.1" width="1104" height="12.2" fill="#a9a6a6"/>
<text transform="translate(435.06,148.35) scale(0.9786,1)" font-size="124.27" fill="#0649ab" stroke="#0649ab" stroke-width="2.5" stroke-linejoin="miter" stroke-miterlimit="3">O</text>
<text transform="translate(534.49,148.35) scale(0.8613,1)" font-size="124.27" fill="#0649ab" stroke="#0649ab" stroke-width="2.5" stroke-linejoin="miter" stroke-miterlimit="3">F</text>
<text transform="translate(606.91,148.35) scale(0.8470,1)" font-size="124.27" fill="#0649ab" stroke="#0649ab" stroke-width="2.5" stroke-linejoin="miter" stroke-miterlimit="3">F</text>
<text transform="translate(704.19,148.35) scale(0.8944,1)" font-size="124.27" fill="#0649ab" stroke="#0649ab" stroke-width="2.5" stroke-linejoin="miter" stroke-miterlimit="3">G</text>
<text transform="translate(799.45,148.35) scale(0.8544,1)" font-size="124.27" fill="#0649ab" stroke="#0649ab" stroke-width="2.5" stroke-linejoin="miter" stroke-miterlimit="3">R</text>
<text transform="translate(881.65,148.35) scale(0.8661,1)" font-size="124.27" fill="#0649ab" stroke="#0649ab" stroke-width="2.5" stroke-linejoin="miter" stroke-miterlimit="3">I</text>
<text transform="translate(920.75,148.35) scale(1.0221,1)" font-size="124.27" fill="#0649ab" stroke="#0649ab" stroke-width="2.5" stroke-linejoin="miter" stroke-miterlimit="3">D</text>
<text transform="translate(1042.73,148.35) scale(0.8999,1)" font-size="124.27" fill="#0649ab" stroke="#0649ab" stroke-width="2.5" stroke-linejoin="miter" stroke-miterlimit="3">S</text>
<text transform="translate(1116.53,148.35) scale(0.9509,1)" font-size="124.27" fill="#0649ab" stroke="#0649ab" stroke-width="2.5" stroke-linejoin="miter" stroke-miterlimit="3">Y</text>
<text transform="translate(1199.11,148.35) scale(0.8784,1)" font-size="124.27" fill="#0649ab" stroke="#0649ab" stroke-width="2.5" stroke-linejoin="miter" stroke-miterlimit="3">S</text>
<text transform="translate(1275.21,148.35) scale(0.8936,1)" font-size="124.27" fill="#0649ab" stroke="#0649ab" stroke-width="2.5" stroke-linejoin="miter" stroke-miterlimit="3">T</text>
<text transform="translate(1351.76,148.35) scale(0.8162,1)" font-size="124.27" fill="#0649ab" stroke="#0649ab" stroke-width="2.5" stroke-linejoin="miter" stroke-miterlimit="3">E</text>
<text transform="translate(1425.89,148.35) scale(1.0174,1)" font-size="124.27" fill="#0649ab" stroke="#0649ab" stroke-width="2.5" stroke-linejoin="miter" stroke-miterlimit="3">M</text>
<rect x="432.3" y="156.8" width="1104" height="12.2" fill="#0649ab"/>
<text transform="translate(251.02,421.50) scale(0.8627,1)" font-size="59.59" fill="#231617" >S</text>
<text transform="translate(286.72,421.50) scale(0.9347,1)" font-size="59.59" fill="#231617" >O</text>
<text transform="translate(333.94,421.50) scale(0.8926,1)" font-size="59.59" fill="#231617" >L</text>
<text transform="translate(365.66,421.50) scale(0.9680,1)" font-size="59.59" fill="#231617" >A</text>
<text transform="translate(408.54,421.50) scale(0.8433,1)" font-size="59.59" fill="#231617" >R</text>
<text transform="translate(461.39,421.50) scale(0.9044,1)" font-size="59.59" fill="#231617" >P</text>
<text transform="translate(497.04,421.50) scale(0.9855,1)" font-size="59.59" fill="#231617" >A</text>
<text transform="translate(541.32,421.50) scale(0.9733,1)" font-size="59.59" fill="#231617" >N</text>
<text transform="translate(586.54,421.50) scale(0.7687,1)" font-size="59.59" fill="#231617" >E</text>
<text transform="translate(622.44,421.50) scale(0.8926,1)" font-size="59.59" fill="#231617" >L</text>
<text transform="translate(790.53,582.90) scale(1.0770,1)" font-size="60.61" fill="#231617" >I</text>
<text transform="translate(810.34,582.90) scale(0.9766,1)" font-size="60.61" fill="#231617" >N</text>
<text transform="translate(852.47,582.90) scale(1.0378,1)" font-size="60.61" fill="#231617" >V</text>
<text transform="translate(896.75,582.90) scale(0.8264,1)" font-size="60.61" fill="#231617" >E</text>
<text transform="translate(932.33,582.90) scale(0.8317,1)" font-size="60.61" fill="#231617" >R</text>
<text transform="translate(970.69,582.90) scale(0.9049,1)" font-size="60.61" fill="#231617" >T</text>
<text transform="translate(1006.84,582.90) scale(0.8294,1)" font-size="60.61" fill="#231617" >E</text>
<text transform="translate(1042.45,582.90) scale(0.8265,1)" font-size="60.61" fill="#231617" >R</text>
<text transform="translate(1644.81,1457.10) scale(1.0027,1)" font-size="60.90" fill="#231617" >H</text>
<text transform="translate(1690.99,1457.10) scale(0.9240,1)" font-size="60.90" fill="#231617" >O</text>
<text transform="translate(1736.94,1457.10) scale(1.0216,1)" font-size="60.90" fill="#231617" >M</text>
<text transform="translate(1791.80,1457.10) scale(0.8342,1)" font-size="60.90" fill="#231617" >E</text>
<text transform="translate(779.43,1928.80) scale(0.8998,1)" font-size="61.05" fill="#231617" >B</text>
<text transform="translate(817.62,1928.80) scale(0.9718,1)" font-size="61.05" fill="#231617" >A</text>
<text transform="translate(859.99,1928.80) scale(0.8985,1)" font-size="61.05" fill="#231617" >T</text>
<text transform="translate(894.78,1928.80) scale(0.9124,1)" font-size="61.05" fill="#231617" >T</text>
<text transform="translate(930.97,1928.80) scale(0.8409,1)" font-size="61.05" fill="#231617" >E</text>
<text transform="translate(967.38,1928.80) scale(0.8129,1)" font-size="61.05" fill="#231617" >R</text>
<text transform="translate(1001.97,1928.80) scale(0.9873,1)" font-size="61.05" fill="#231617" >Y</text>
<text transform="translate(1057.47,1928.80) scale(0.8890,1)" font-size="61.05" fill="#231617" >B</text>
<text transform="translate(1095.62,1928.80) scale(0.9718,1)" font-size="61.05" fill="#231617" >A</text>
<text transform="translate(1138.91,1928.80) scale(1.0254,1)" font-size="61.05" fill="#231617" >N</text>
<text transform="translate(1185.63,1928.80) scale(0.8495,1)" font-size="61.05" fill="#231617" >K</text>
</g>
</svg>
</body></html>
